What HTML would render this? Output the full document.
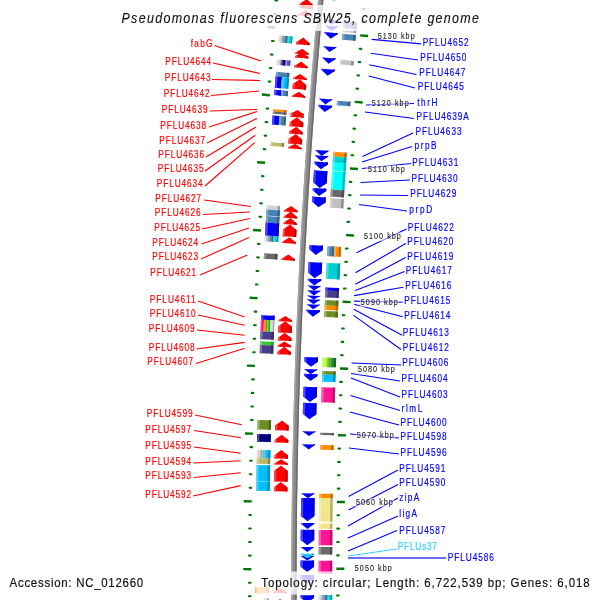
<!DOCTYPE html>
<html><head><meta charset="utf-8"><title>Pseudomonas fluorescens SBW25</title>
<style>html,body{margin:0;padding:0;background:#fff;width:600px;height:600px;overflow:hidden;font-family:"Liberation Sans",sans-serif}svg{display:block}</style>
</head><body>
<svg width="600" height="600" viewBox="0 0 600 600" font-family="'Liberation Sans', sans-serif"><rect width="600" height="600" fill="#fff"/><path d="M321.26,-4.98 L320.32,5.22 L319.40,15.42 L318.50,25.62 L317.61,35.82 L316.73,46.02 L315.88,56.22 L315.04,66.42 L314.21,76.62 L313.41,86.82 L312.61,97.02 L311.84,107.22 L311.08,117.42 L310.34,127.62 L309.62,137.82 L308.91,148.02 L308.22,158.22 L307.54,168.42 L306.88,178.62 L306.24,188.82 L305.62,199.02 L305.01,209.21 L304.41,219.41 L303.84,229.61 L303.28,239.81 L302.73,250.01 L302.21,260.21 L301.70,270.41 L301.20,280.61 L300.72,290.81 L300.26,301.01 L299.82,311.21 L299.39,321.41 L298.98,331.61 L298.58,341.81 L298.20,352.01 L297.84,362.21 L297.49,372.41 L297.16,382.61 L296.85,392.81 L296.55,403.01 L296.27,413.21 L296.01,423.41 L295.76,433.61 L295.53,443.81 L295.31,454.01 L295.11,464.20 L294.93,474.40 L294.76,484.60 L294.61,494.80 L294.48,505.00 L294.36,515.20 L294.26,525.40 L294.18,535.60 L294.11,545.80 L294.06,556.00 L294.02,566.20 L294.00,576.40 L294.00,586.60 L294.01,596.80 L294.04,607.00" fill="none" stroke="#8a8a8a" stroke-width="5.4"/>
<path d="M319.22,-5.17 L318.28,5.04 L317.36,15.24 L316.45,25.44 L315.56,35.65 L314.69,45.85 L313.83,56.05 L312.99,66.25 L312.17,76.46 L311.36,86.66 L310.57,96.86 L309.80,107.07 L309.04,117.27 L308.30,127.47 L307.57,137.67 L306.86,147.88 L306.17,158.08 L305.50,168.28 L304.84,178.49 L304.20,188.69 L303.57,198.89 L302.96,209.09 L302.37,219.30 L301.79,229.50 L301.23,239.70 L300.69,249.91 L300.16,260.11 L299.65,270.31 L299.15,280.51 L298.68,290.72 L298.21,300.92 L297.77,311.12 L297.34,321.33 L296.93,331.53 L296.53,341.73 L296.15,351.93 L295.79,362.14 L295.44,372.34 L295.11,382.54 L294.80,392.75 L294.50,402.95 L294.22,413.15 L293.96,423.35 L293.71,433.56 L293.48,443.76 L293.26,453.96 L293.06,464.17 L292.88,474.37 L292.71,484.57 L292.56,494.77 L292.43,504.98 L292.31,515.18 L292.21,525.38 L292.13,535.59 L292.06,545.79 L292.01,555.99 L291.97,566.20 L291.95,576.40 L291.95,586.60 L291.96,596.80 L291.99,607.01" fill="none" stroke="#a8a8a8" stroke-width="1.3"/>
<path d="M323.11,-4.81 L322.17,5.39 L321.24,15.59 L320.34,25.78 L319.45,35.98 L318.58,46.18 L317.72,56.37 L316.88,66.57 L316.06,76.77 L315.25,86.96 L314.46,97.16 L313.69,107.36 L312.93,117.55 L312.19,127.75 L311.46,137.95 L310.75,148.14 L310.06,158.34 L309.39,168.54 L308.73,178.73 L308.09,188.93 L307.46,199.13 L306.85,209.32 L306.26,219.52 L305.68,229.72 L305.12,239.91 L304.58,250.11 L304.05,260.31 L303.54,270.50 L303.05,280.70 L302.57,290.90 L302.11,301.09 L301.67,311.29 L301.24,321.49 L300.83,331.68 L300.43,341.88 L300.05,352.08 L299.69,362.27 L299.34,372.47 L299.01,382.67 L298.70,392.86 L298.40,403.06 L298.12,413.26 L297.85,423.45 L297.61,433.65 L297.37,443.85 L297.16,454.04 L296.96,464.24 L296.78,474.44 L296.61,484.63 L296.46,494.83 L296.33,505.03 L296.21,515.22 L296.11,525.42 L296.03,535.62 L295.96,545.81 L295.91,556.01 L295.87,566.21 L295.85,576.40 L295.85,586.60 L295.86,596.80 L295.89,606.99" fill="none" stroke="#6a6a6a" stroke-width="1.4"/>
<line x1="275.53" y1="0.41" x2="277.12" y2="0.55" stroke="#007700" stroke-width="2.1" stroke-linecap="round"/>
<line x1="274.31" y1="13.91" x2="275.90" y2="14.05" stroke="#007700" stroke-width="2.1" stroke-linecap="round"/>
<line x1="267.44" y1="26.93" x2="275.41" y2="27.62" stroke="#007700" stroke-width="2.4"/>
<line x1="271.95" y1="40.93" x2="273.55" y2="41.07" stroke="#007700" stroke-width="2.1" stroke-linecap="round"/>
<line x1="270.82" y1="54.45" x2="272.41" y2="54.58" stroke="#007700" stroke-width="2.1" stroke-linecap="round"/>
<line x1="269.71" y1="67.96" x2="271.31" y2="68.09" stroke="#007700" stroke-width="2.1" stroke-linecap="round"/>
<line x1="268.64" y1="81.48" x2="270.23" y2="81.61" stroke="#007700" stroke-width="2.1" stroke-linecap="round"/>
<line x1="261.90" y1="94.57" x2="269.88" y2="95.18" stroke="#007700" stroke-width="2.4"/>
<line x1="266.57" y1="108.53" x2="268.16" y2="108.64" stroke="#007700" stroke-width="2.1" stroke-linecap="round"/>
<line x1="265.58" y1="122.05" x2="267.17" y2="122.17" stroke="#007700" stroke-width="2.1" stroke-linecap="round"/>
<line x1="264.61" y1="135.58" x2="266.21" y2="135.69" stroke="#007700" stroke-width="2.1" stroke-linecap="round"/>
<line x1="263.68" y1="149.11" x2="265.28" y2="149.22" stroke="#007700" stroke-width="2.1" stroke-linecap="round"/>
<line x1="257.09" y1="162.26" x2="265.07" y2="162.79" stroke="#007700" stroke-width="2.4"/>
<line x1="261.90" y1="176.17" x2="263.49" y2="176.27" stroke="#007700" stroke-width="2.1" stroke-linecap="round"/>
<line x1="261.05" y1="189.71" x2="262.65" y2="189.80" stroke="#007700" stroke-width="2.1" stroke-linecap="round"/>
<line x1="260.23" y1="203.24" x2="261.83" y2="203.34" stroke="#007700" stroke-width="2.1" stroke-linecap="round"/>
<line x1="259.44" y1="216.78" x2="261.04" y2="216.87" stroke="#007700" stroke-width="2.1" stroke-linecap="round"/>
<line x1="252.99" y1="230.01" x2="260.98" y2="230.45" stroke="#007700" stroke-width="2.4"/>
<line x1="257.95" y1="243.86" x2="259.54" y2="243.95" stroke="#007700" stroke-width="2.1" stroke-linecap="round"/>
<line x1="257.24" y1="257.41" x2="258.84" y2="257.49" stroke="#007700" stroke-width="2.1" stroke-linecap="round"/>
<line x1="256.57" y1="270.95" x2="258.16" y2="271.03" stroke="#007700" stroke-width="2.1" stroke-linecap="round"/>
<line x1="255.92" y1="284.50" x2="257.52" y2="284.57" stroke="#007700" stroke-width="2.1" stroke-linecap="round"/>
<line x1="249.61" y1="297.79" x2="257.60" y2="298.15" stroke="#007700" stroke-width="2.4"/>
<line x1="254.71" y1="311.59" x2="256.31" y2="311.66" stroke="#007700" stroke-width="2.1" stroke-linecap="round"/>
<line x1="254.15" y1="325.14" x2="255.75" y2="325.21" stroke="#007700" stroke-width="2.1" stroke-linecap="round"/>
<line x1="253.62" y1="338.69" x2="255.22" y2="338.75" stroke="#007700" stroke-width="2.1" stroke-linecap="round"/>
<line x1="253.11" y1="352.25" x2="254.71" y2="352.30" stroke="#007700" stroke-width="2.1" stroke-linecap="round"/>
<line x1="246.94" y1="365.61" x2="254.94" y2="365.88" stroke="#007700" stroke-width="2.4"/>
<line x1="252.19" y1="379.35" x2="253.79" y2="379.40" stroke="#007700" stroke-width="2.1" stroke-linecap="round"/>
<line x1="251.78" y1="392.91" x2="253.37" y2="392.96" stroke="#007700" stroke-width="2.1" stroke-linecap="round"/>
<line x1="251.39" y1="406.46" x2="252.99" y2="406.51" stroke="#007700" stroke-width="2.1" stroke-linecap="round"/>
<line x1="251.03" y1="420.02" x2="252.63" y2="420.06" stroke="#007700" stroke-width="2.1" stroke-linecap="round"/>
<line x1="245.00" y1="433.44" x2="252.99" y2="433.63" stroke="#007700" stroke-width="2.4"/>
<line x1="250.39" y1="447.14" x2="251.99" y2="447.17" stroke="#007700" stroke-width="2.1" stroke-linecap="round"/>
<line x1="250.12" y1="460.69" x2="251.72" y2="460.73" stroke="#007700" stroke-width="2.1" stroke-linecap="round"/>
<line x1="249.87" y1="474.25" x2="251.47" y2="474.28" stroke="#007700" stroke-width="2.1" stroke-linecap="round"/>
<line x1="249.66" y1="487.81" x2="251.26" y2="487.84" stroke="#007700" stroke-width="2.1" stroke-linecap="round"/>
<line x1="243.77" y1="501.30" x2="251.77" y2="501.40" stroke="#007700" stroke-width="2.4"/>
<line x1="249.31" y1="514.93" x2="250.91" y2="514.95" stroke="#007700" stroke-width="2.1" stroke-linecap="round"/>
<line x1="249.18" y1="528.50" x2="250.78" y2="528.51" stroke="#007700" stroke-width="2.1" stroke-linecap="round"/>
<line x1="249.08" y1="542.06" x2="250.68" y2="542.07" stroke="#007700" stroke-width="2.1" stroke-linecap="round"/>
<line x1="249.01" y1="555.62" x2="250.61" y2="555.62" stroke="#007700" stroke-width="2.1" stroke-linecap="round"/>
<line x1="243.26" y1="569.17" x2="251.26" y2="569.18" stroke="#007700" stroke-width="2.4"/>
<line x1="248.95" y1="582.74" x2="250.55" y2="582.74" stroke="#007700" stroke-width="2.1" stroke-linecap="round"/>
<line x1="248.96" y1="596.30" x2="250.56" y2="596.30" stroke="#007700" stroke-width="2.1" stroke-linecap="round"/>
<line x1="363.22" y1="8.84" x2="364.82" y2="8.98" stroke="#007700" stroke-width="2.1" stroke-linecap="round"/>
<line x1="362.02" y1="22.13" x2="363.62" y2="22.28" stroke="#007700" stroke-width="2.1" stroke-linecap="round"/>
<line x1="360.15" y1="35.37" x2="368.12" y2="36.06" stroke="#007700" stroke-width="2.4"/>
<line x1="359.71" y1="48.73" x2="361.30" y2="48.87" stroke="#007700" stroke-width="2.1" stroke-linecap="round"/>
<line x1="358.59" y1="62.03" x2="360.19" y2="62.16" stroke="#007700" stroke-width="2.1" stroke-linecap="round"/>
<line x1="357.50" y1="75.34" x2="359.10" y2="75.47" stroke="#007700" stroke-width="2.1" stroke-linecap="round"/>
<line x1="356.44" y1="88.64" x2="358.04" y2="88.77" stroke="#007700" stroke-width="2.1" stroke-linecap="round"/>
<line x1="354.71" y1="101.90" x2="362.69" y2="102.51" stroke="#007700" stroke-width="2.4"/>
<line x1="354.41" y1="115.26" x2="356.01" y2="115.38" stroke="#007700" stroke-width="2.1" stroke-linecap="round"/>
<line x1="353.43" y1="128.58" x2="355.03" y2="128.69" stroke="#007700" stroke-width="2.1" stroke-linecap="round"/>
<line x1="352.49" y1="141.89" x2="354.08" y2="142.00" stroke="#007700" stroke-width="2.1" stroke-linecap="round"/>
<line x1="351.57" y1="155.21" x2="353.16" y2="155.32" stroke="#007700" stroke-width="2.1" stroke-linecap="round"/>
<line x1="349.98" y1="168.48" x2="357.96" y2="169.01" stroke="#007700" stroke-width="2.4"/>
<line x1="349.82" y1="181.85" x2="351.41" y2="181.95" stroke="#007700" stroke-width="2.1" stroke-linecap="round"/>
<line x1="348.98" y1="195.17" x2="350.58" y2="195.27" stroke="#007700" stroke-width="2.1" stroke-linecap="round"/>
<line x1="348.17" y1="208.50" x2="349.77" y2="208.59" stroke="#007700" stroke-width="2.1" stroke-linecap="round"/>
<line x1="347.40" y1="221.82" x2="348.99" y2="221.92" stroke="#007700" stroke-width="2.1" stroke-linecap="round"/>
<line x1="345.95" y1="235.11" x2="353.94" y2="235.55" stroke="#007700" stroke-width="2.4"/>
<line x1="345.92" y1="248.48" x2="347.52" y2="248.57" stroke="#007700" stroke-width="2.1" stroke-linecap="round"/>
<line x1="345.23" y1="261.81" x2="346.83" y2="261.89" stroke="#007700" stroke-width="2.1" stroke-linecap="round"/>
<line x1="344.57" y1="275.14" x2="346.16" y2="275.22" stroke="#007700" stroke-width="2.1" stroke-linecap="round"/>
<line x1="343.93" y1="288.48" x2="345.53" y2="288.55" stroke="#007700" stroke-width="2.1" stroke-linecap="round"/>
<line x1="342.62" y1="301.78" x2="350.61" y2="302.14" stroke="#007700" stroke-width="2.4"/>
<line x1="342.74" y1="315.15" x2="344.34" y2="315.22" stroke="#007700" stroke-width="2.1" stroke-linecap="round"/>
<line x1="342.19" y1="328.49" x2="343.79" y2="328.55" stroke="#007700" stroke-width="2.1" stroke-linecap="round"/>
<line x1="341.66" y1="341.83" x2="343.26" y2="341.89" stroke="#007700" stroke-width="2.1" stroke-linecap="round"/>
<line x1="341.17" y1="355.16" x2="342.76" y2="355.22" stroke="#007700" stroke-width="2.1" stroke-linecap="round"/>
<line x1="340.00" y1="368.48" x2="347.99" y2="368.75" stroke="#007700" stroke-width="2.4"/>
<line x1="340.26" y1="381.85" x2="341.86" y2="381.90" stroke="#007700" stroke-width="2.1" stroke-linecap="round"/>
<line x1="339.85" y1="395.19" x2="341.45" y2="395.24" stroke="#007700" stroke-width="2.1" stroke-linecap="round"/>
<line x1="339.46" y1="408.53" x2="341.06" y2="408.58" stroke="#007700" stroke-width="2.1" stroke-linecap="round"/>
<line x1="339.11" y1="421.88" x2="340.71" y2="421.92" stroke="#007700" stroke-width="2.1" stroke-linecap="round"/>
<line x1="338.08" y1="435.21" x2="346.08" y2="435.39" stroke="#007700" stroke-width="2.4"/>
<line x1="338.48" y1="448.57" x2="340.08" y2="448.60" stroke="#007700" stroke-width="2.1" stroke-linecap="round"/>
<line x1="338.21" y1="461.91" x2="339.81" y2="461.94" stroke="#007700" stroke-width="2.1" stroke-linecap="round"/>
<line x1="337.97" y1="475.26" x2="339.57" y2="475.29" stroke="#007700" stroke-width="2.1" stroke-linecap="round"/>
<line x1="337.76" y1="488.61" x2="339.36" y2="488.63" stroke="#007700" stroke-width="2.1" stroke-linecap="round"/>
<line x1="336.87" y1="501.95" x2="344.87" y2="502.05" stroke="#007700" stroke-width="2.4"/>
<line x1="337.41" y1="515.30" x2="339.01" y2="515.32" stroke="#007700" stroke-width="2.1" stroke-linecap="round"/>
<line x1="337.28" y1="528.65" x2="338.88" y2="528.67" stroke="#007700" stroke-width="2.1" stroke-linecap="round"/>
<line x1="337.18" y1="542.00" x2="338.78" y2="542.01" stroke="#007700" stroke-width="2.1" stroke-linecap="round"/>
<line x1="337.11" y1="555.35" x2="338.71" y2="555.36" stroke="#007700" stroke-width="2.1" stroke-linecap="round"/>
<line x1="336.36" y1="568.70" x2="344.36" y2="568.71" stroke="#007700" stroke-width="2.4"/>
<line x1="337.05" y1="582.05" x2="338.65" y2="582.05" stroke="#007700" stroke-width="2.1" stroke-linecap="round"/>
<line x1="337.06" y1="595.40" x2="338.66" y2="595.39" stroke="#007700" stroke-width="2.1" stroke-linecap="round"/>
<polygon points="279.05,35.42 283.49,35.81 282.90,42.70 278.46,42.33" fill="#d3d3d3"/>
<polygon points="279.05,35.42 280.38,35.54 279.79,42.44 278.46,42.33" fill="#e0e0e0"/>
<polygon points="282.15,35.69 283.49,35.81 282.90,42.70 281.57,42.59" fill="#9e9e9e"/>
<polygon points="283.49,35.81 287.92,36.19 287.34,43.08 282.90,42.70" fill="#4682b4"/>
<polygon points="283.49,35.81 284.82,35.92 284.23,42.82 282.90,42.70" fill="#7ea8ca"/>
<polygon points="286.59,36.07 287.92,36.19 287.34,43.08 286.00,42.97" fill="#346287"/>
<polygon points="287.92,36.19 292.50,36.58 291.91,43.47 287.34,43.08" fill="#00ced1"/>
<polygon points="287.92,36.19 289.30,36.31 288.71,43.20 287.34,43.08" fill="#4cdddf"/>
<polygon points="291.13,36.46 292.50,36.58 291.91,43.47 290.54,43.35" fill="#009a9d"/>
<polygon points="277.03,59.43 281.87,59.83 281.44,65.16 276.59,64.77" fill="#d3d3d3"/>
<polygon points="277.03,59.43 278.48,59.55 278.05,64.89 276.59,64.77" fill="#e0e0e0"/>
<polygon points="280.42,59.71 281.87,59.83 281.44,65.16 279.98,65.04" fill="#9e9e9e"/>
<polygon points="281.87,59.83 285.64,60.14 285.20,65.47 281.44,65.16" fill="#000080"/>
<polygon points="281.87,59.83 283.00,59.92 282.57,65.25 281.44,65.16" fill="#4c4ca6"/>
<polygon points="284.51,60.05 285.64,60.14 285.20,65.47 284.07,65.38" fill="#000060"/>
<polygon points="285.64,60.14 290.48,60.54 290.05,65.86 285.20,65.47" fill="#6a5acd"/>
<polygon points="285.64,60.14 287.09,60.26 286.66,65.59 285.20,65.47" fill="#978cdc"/>
<polygon points="289.03,60.42 290.48,60.54 290.05,65.86 288.60,65.74" fill="#50449a"/>
<polygon points="276.02,71.84 289.48,72.92 289.11,77.53 275.65,76.47" fill="#4682b4"/>
<polygon points="276.02,71.84 278.18,72.01 277.81,76.64 275.65,76.47" fill="#7ea8ca"/>
<polygon points="287.06,72.72 289.48,72.92 289.11,77.53 286.69,77.34" fill="#346287"/>
<polygon points="275.65,76.47 281.98,76.97 281.09,88.30 274.76,87.81" fill="#0000ff"/>
<polygon points="275.65,76.47 277.55,76.62 276.66,87.95 274.76,87.81" fill="#4c4cff"/>
<polygon points="280.08,76.82 281.98,76.97 281.09,88.30 279.19,88.15" fill="#0000bf"/>
<polygon points="281.98,76.97 289.11,77.53 288.22,88.85 281.09,88.30" fill="#00bfff"/>
<polygon points="281.98,76.97 284.12,77.14 283.23,88.46 281.09,88.30" fill="#4cd2ff"/>
<polygon points="286.97,77.36 289.11,77.53 288.22,88.85 286.08,88.69" fill="#008fbf"/>
<polygon points="274.60,89.84 281.33,90.36 280.93,95.64 274.20,95.12" fill="#0000ff"/>
<polygon points="274.60,89.84 276.62,90.00 276.22,95.28 274.20,95.12" fill="#4c4cff"/>
<polygon points="279.31,90.21 281.33,90.36 280.93,95.64 278.91,95.48" fill="#0000bf"/>
<polygon points="281.33,90.36 288.06,90.88 287.66,96.15 280.93,95.64" fill="#4682b4"/>
<polygon points="281.33,90.36 283.35,90.52 282.95,95.79 280.93,95.64" fill="#7ea8ca"/>
<polygon points="286.04,90.73 288.06,90.88 287.66,96.15 285.64,96.00" fill="#346287"/>
<polygon points="273.14,109.15 286.60,110.15 286.43,112.50 272.96,111.50" fill="#ff8c00"/>
<polygon points="273.14,109.15 275.29,109.31 275.12,111.66 272.96,111.50" fill="#ffae4c"/>
<polygon points="284.18,109.97 286.60,110.15 286.43,112.50 284.00,112.32" fill="#bf6900"/>
<polygon points="272.96,111.50 286.43,112.50 286.25,114.85 272.79,113.86" fill="#696969"/>
<polygon points="272.96,111.50 275.12,111.66 274.95,114.02 272.79,113.86" fill="#969696"/>
<polygon points="284.00,112.32 286.43,112.50 286.25,114.85 283.83,114.67" fill="#4f4f4f"/>
<polygon points="272.67,115.55 279.40,116.04 278.75,124.96 272.02,124.47" fill="#0000ff"/>
<polygon points="272.67,115.55 274.69,115.70 274.04,124.62 272.02,124.47" fill="#4c4cff"/>
<polygon points="277.38,115.89 279.40,116.04 278.75,124.96 276.73,124.81" fill="#0000bf"/>
<polygon points="279.40,116.04 286.13,116.54 285.48,125.44 278.75,124.96" fill="#4682b4"/>
<polygon points="279.40,116.04 281.42,116.19 280.77,125.10 278.75,124.96" fill="#7ea8ca"/>
<polygon points="284.11,116.39 286.13,116.54 285.48,125.44 283.46,125.30" fill="#346287"/>
<polygon points="270.76,142.26 284.23,143.19 283.98,146.84 270.51,145.91" fill="#bdb76b"/>
<polygon points="270.76,142.26 272.92,142.41 272.67,146.06 270.51,145.91" fill="#d1cd97"/>
<polygon points="281.81,143.02 284.23,143.19 283.98,146.84 281.56,146.67" fill="#8e8950"/>
<polygon points="266.73,205.18 280.20,205.98 279.94,210.39 266.47,209.61" fill="#d3d3d3"/>
<polygon points="266.73,205.18 268.88,205.31 268.62,209.73 266.47,209.61" fill="#e0e0e0"/>
<polygon points="277.78,205.83 280.20,205.98 279.94,210.39 277.52,210.25" fill="#9e9e9e"/>
<polygon points="266.47,209.61 279.94,210.39 279.60,216.39 266.12,215.61" fill="#4682b4"/>
<polygon points="266.47,209.61 268.62,209.73 268.28,215.74 266.12,215.61" fill="#7ea8ca"/>
<polygon points="277.52,210.25 279.94,210.39 279.60,216.39 277.17,216.25" fill="#346287"/>
<polygon points="266.09,216.11 279.57,216.89 279.20,223.38 265.72,222.62" fill="#4682b4"/>
<polygon points="266.09,216.11 268.25,216.24 267.88,222.74 265.72,222.62" fill="#7ea8ca"/>
<polygon points="277.14,216.75 279.57,216.89 279.20,223.38 276.77,223.24" fill="#346287"/>
<polygon points="265.72,222.62 279.20,223.38 278.48,236.37 265.00,235.63" fill="#0000ff"/>
<polygon points="265.72,222.62 267.88,222.74 267.15,235.75 265.00,235.63" fill="#4c4cff"/>
<polygon points="276.77,223.24 279.20,223.38 278.48,236.37 276.05,236.23" fill="#0000bf"/>
<polygon points="265.00,235.63 269.04,235.85 268.73,241.60 264.69,241.38" fill="#d3d3d3"/>
<polygon points="265.00,235.63 266.21,235.70 265.90,241.45 264.69,241.38" fill="#e0e0e0"/>
<polygon points="267.83,235.79 269.04,235.85 268.73,241.60 267.52,241.54" fill="#9e9e9e"/>
<polygon points="269.04,235.85 273.76,236.11 273.45,241.85 268.73,241.60" fill="#4682b4"/>
<polygon points="269.04,235.85 270.46,235.93 270.15,241.68 268.73,241.60" fill="#7ea8ca"/>
<polygon points="272.34,236.03 273.76,236.11 273.45,241.85 272.03,241.78" fill="#346287"/>
<polygon points="273.76,236.11 278.48,236.37 278.17,242.11 273.45,241.85" fill="#00ced1"/>
<polygon points="273.76,236.11 275.18,236.19 274.87,241.93 273.45,241.85" fill="#4cdddf"/>
<polygon points="277.06,236.29 278.48,236.37 278.17,242.11 276.75,242.03" fill="#009a9d"/>
<polygon points="264.07,253.19 277.55,253.89 277.27,259.40 263.78,258.72" fill="#696969"/>
<polygon points="264.07,253.19 266.22,253.30 265.94,258.83 263.78,258.72" fill="#969696"/>
<polygon points="275.12,253.76 277.55,253.89 277.27,259.40 274.84,259.28" fill="#4f4f4f"/>
<polygon points="261.16,315.21 274.65,315.78 274.46,320.28 260.98,319.72" fill="#0000ff"/>
<polygon points="261.16,315.21 263.32,315.30 263.13,319.81 260.98,319.72" fill="#4c4cff"/>
<polygon points="272.22,315.68 274.65,315.78 274.46,320.28 272.04,320.18" fill="#0000bf"/>
<polygon points="260.98,319.72 263.94,319.84 263.47,331.55 260.50,331.43" fill="#ff1493"/>
<polygon points="260.98,319.72 261.87,319.76 261.39,331.47 260.50,331.43" fill="#ff5ab3"/>
<polygon points="263.05,319.81 263.94,319.84 263.47,331.55 262.58,331.52" fill="#bf0f6e"/>
<polygon points="263.94,319.84 267.18,319.98 266.71,331.68 263.47,331.55" fill="#ff8c00"/>
<polygon points="263.94,319.84 264.91,319.88 264.44,331.59 263.47,331.55" fill="#ffae4c"/>
<polygon points="266.21,319.94 267.18,319.98 266.71,331.68 265.74,331.64" fill="#bf6900"/>
<polygon points="267.18,319.98 270.69,320.12 270.22,331.82 266.71,331.68" fill="#32cd32"/>
<polygon points="267.18,319.98 268.23,320.02 267.76,331.72 266.71,331.68" fill="#70dc70"/>
<polygon points="269.64,320.08 270.69,320.12 270.22,331.82 269.16,331.78" fill="#269a26"/>
<polygon points="270.69,320.12 274.46,320.28 273.99,331.97 270.22,331.82" fill="#d3d3d3"/>
<polygon points="270.69,320.12 271.82,320.17 271.35,331.86 270.22,331.82" fill="#e0e0e0"/>
<polygon points="273.33,320.23 274.46,320.28 273.99,331.97 272.86,331.92" fill="#9e9e9e"/>
<polygon points="260.50,331.43 273.99,331.97 273.69,339.77 260.20,339.26" fill="#483d8b"/>
<polygon points="260.50,331.43 262.66,331.52 262.36,339.34 260.20,339.26" fill="#7f77ae"/>
<polygon points="271.57,331.87 273.99,331.97 273.69,339.77 271.26,339.68" fill="#362e68"/>
<polygon points="260.13,341.22 273.62,341.73 273.47,345.55 259.98,345.05" fill="#32cd32"/>
<polygon points="260.13,341.22 262.28,341.30 262.14,345.13 259.98,345.05" fill="#70dc70"/>
<polygon points="271.19,341.64 273.62,341.73 273.47,345.55 271.04,345.46" fill="#269a26"/>
<polygon points="259.98,345.05 273.47,345.55 273.18,353.67 259.68,353.18" fill="#483d8b"/>
<polygon points="259.98,345.05 262.14,345.13 261.84,353.26 259.68,353.18" fill="#7f77ae"/>
<polygon points="271.04,345.46 273.47,345.55 273.18,353.67 270.75,353.58" fill="#362e68"/>
<polygon points="257.63,419.94 271.13,420.29 270.89,429.75 257.40,429.42" fill="#6b8e23"/>
<polygon points="257.63,419.94 259.79,420.00 259.56,429.47 257.40,429.42" fill="#97b065"/>
<polygon points="268.70,420.23 271.13,420.29 270.89,429.75 268.46,429.69" fill="#506a1a"/>
<polygon points="257.29,433.95 270.78,434.26 270.61,442.04 257.11,441.74" fill="#000080"/>
<polygon points="257.29,433.95 259.45,434.00 259.27,441.79 257.11,441.74" fill="#4c4ca6"/>
<polygon points="268.36,434.21 270.78,434.26 270.61,442.04 268.18,441.99" fill="#000060"/>
<polygon points="256.94,449.95 262.33,450.07 262.17,458.37 256.77,458.27" fill="#d3d3d3"/>
<polygon points="256.94,449.95 258.55,449.99 258.39,458.30 256.77,458.27" fill="#e0e0e0"/>
<polygon points="260.71,450.03 262.33,450.07 262.17,458.37 260.55,458.34" fill="#9e9e9e"/>
<polygon points="262.33,450.07 263.68,450.10 263.52,458.40 262.17,458.37" fill="#a9a9a9"/>
<polygon points="262.33,450.07 262.74,450.08 262.57,458.38 262.17,458.37" fill="#c3c3c3"/>
<polygon points="263.28,450.09 263.68,450.10 263.52,458.40 263.11,458.39" fill="#7f7f7f"/>
<polygon points="263.68,450.10 270.43,450.24 270.26,458.53 263.52,458.40" fill="#00bfff"/>
<polygon points="263.68,450.10 265.71,450.14 265.54,458.44 263.52,458.40" fill="#4cd2ff"/>
<polygon points="268.41,450.19 270.43,450.24 270.26,458.53 268.24,458.49" fill="#008fbf"/>
<polygon points="256.77,458.27 270.26,458.53 270.16,464.04 256.66,463.78" fill="#bdb76b"/>
<polygon points="256.77,458.27 258.93,458.31 258.82,463.82 256.66,463.78" fill="#d1cd97"/>
<polygon points="267.84,458.48 270.26,458.53 270.16,464.04 267.73,463.99" fill="#8e8950"/>
<polygon points="256.64,464.96 270.14,465.21 269.86,481.41 256.36,481.19" fill="#00bfff"/>
<polygon points="256.64,464.96 258.80,465.00 258.52,481.23 256.36,481.19" fill="#4cd2ff"/>
<polygon points="267.71,465.16 270.14,465.21 269.86,481.41 267.43,481.37" fill="#008fbf"/>
<polygon points="256.35,481.59 269.85,481.81 269.71,491.03 256.21,490.83" fill="#00bfff"/>
<polygon points="256.35,481.59 258.51,481.63 258.37,490.86 256.21,490.83" fill="#4cd2ff"/>
<polygon points="267.42,481.77 269.85,481.81 269.71,491.03 267.28,490.99" fill="#008fbf"/>
<polygon points="255.55,587.30 269.05,587.29 269.05,593.29 255.56,593.32" fill="#ff8c00"/>
<polygon points="255.55,587.30 257.71,587.30 257.72,593.31 255.56,593.32" fill="#ffae4c"/>
<polygon points="266.62,587.29 269.05,587.29 269.05,593.29 266.62,593.30" fill="#bf6900"/>
<polygon points="263.93,598.28 269.06,598.27 269.09,605.99 263.96,606.01" fill="#c8dcea"/>
<polygon points="263.93,598.28 265.47,598.28 265.50,606.00 263.96,606.01" fill="#d8e6f0"/>
<polygon points="267.53,598.27 269.06,598.27 269.09,605.99 267.55,606.00" fill="#96a5b0"/>
<g opacity="0.00"><polygon points="283.13,-10.19 287.57,-9.78 286.36,3.36 281.92,2.95" fill="#d3d3d3"/><polygon points="283.13,-10.19 284.46,-10.07 283.25,3.08 281.92,2.95" fill="#e0e0e0"/><polygon points="286.24,-9.90 287.57,-9.78 286.36,3.36 285.03,3.24" fill="#9e9e9e"/><polygon points="287.57,-9.78 292.00,-9.37 290.80,3.76 286.36,3.36" fill="#4682b4"/><polygon points="287.57,-9.78 288.90,-9.66 287.69,3.48 286.36,3.36" fill="#7ea8ca"/><polygon points="290.67,-9.49 292.00,-9.37 290.80,3.76 289.46,3.64" fill="#346287"/><polygon points="292.00,-9.37 296.58,-8.94 295.37,4.18 290.80,3.76" fill="#00ced1"/><polygon points="292.00,-9.37 293.38,-9.24 292.17,3.89 290.80,3.76" fill="#4cdddf"/><polygon points="295.20,-9.07 296.58,-8.94 295.37,4.18 293.99,4.05" fill="#009a9d"/></g>
<polygon points="306.84,-1.00 313.07,4.91 312.67,9.31 299.23,8.09 299.63,3.69" fill="#ff0000"/>
<polygon points="299.23,8.09 299.63,3.69 301.93,2.19 301.38,8.29" fill="#ff4747"/>
<polygon points="312.67,9.31 313.07,4.91 310.95,2.90 310.39,9.10" fill="#bf0000"/>
<polygon points="305.83,10.00 312.14,15.24 312.04,16.40 298.59,15.20 298.69,14.04" fill="#ff0000"/>
<polygon points="298.59,15.20 298.69,14.04 300.98,12.74 300.74,15.39" fill="#ff4747"/>
<polygon points="312.04,16.40 312.14,15.24 309.99,13.46 309.75,16.20" fill="#bf0000"/>
<polygon points="303.40,37.60 309.67,43.47 309.52,45.27 296.07,44.13 296.22,42.33" fill="#ff0000"/>
<polygon points="296.07,44.13 296.22,42.33 298.52,40.81 298.22,44.31" fill="#ff4747"/>
<polygon points="309.52,45.27 309.67,43.47 307.54,41.48 307.23,45.08" fill="#bf0000"/>
<polygon points="302.46,48.70 308.81,53.66 308.72,54.76 295.27,53.64 295.36,52.54" fill="#ff0000"/>
<polygon points="295.27,53.64 295.36,52.54 297.63,51.31 297.42,53.82" fill="#ff4747"/>
<polygon points="308.72,54.76 308.81,53.66 306.65,51.98 306.44,54.57" fill="#bf0000"/>
<polygon points="302.18,52.00 308.51,57.36 308.41,58.56 294.95,57.44 295.05,56.24" fill="#ff0000"/>
<polygon points="294.95,57.44 295.05,56.24 297.33,54.88 297.11,57.62" fill="#ff4747"/>
<polygon points="308.41,58.56 308.51,57.36 306.35,55.54 306.12,58.37" fill="#bf0000"/>
<polygon points="301.38,61.60 307.71,67.05 307.61,68.25 294.16,67.15 294.26,65.95" fill="#ff0000"/>
<polygon points="294.16,67.15 294.26,65.95 296.54,64.56 296.31,67.33" fill="#ff4747"/>
<polygon points="307.61,68.25 307.71,67.05 305.56,65.20 305.33,68.06" fill="#bf0000"/>
<polygon points="300.38,74.00 306.75,78.93 306.67,80.03 293.21,78.97 293.30,77.87" fill="#ff0000"/>
<polygon points="293.21,78.97 293.30,77.87 295.56,76.63 295.36,79.14" fill="#ff4747"/>
<polygon points="306.67,80.03 306.75,78.93 304.59,77.26 304.38,79.85" fill="#bf0000"/>
<polygon points="299.95,79.30 306.27,85.13 305.90,89.82 292.44,88.78 292.81,84.07" fill="#ff0000"/>
<polygon points="292.44,88.78 292.81,84.07 295.09,82.54 294.59,88.94" fill="#ff4747"/>
<polygon points="305.90,89.82 306.27,85.13 304.12,83.15 303.61,89.65" fill="#bf0000"/>
<polygon points="298.98,91.70 305.37,96.70 305.28,97.81 291.82,96.79 291.91,95.66" fill="#ff0000"/>
<polygon points="291.82,96.79 291.91,95.66 294.17,94.39 293.98,96.95" fill="#ff4747"/>
<polygon points="305.28,97.81 305.37,96.70 303.20,95.00 302.99,97.64" fill="#bf0000"/>
<polygon points="297.59,110.00 304.03,114.50 303.95,115.50 290.49,114.50 290.57,113.50" fill="#ff0000"/>
<polygon points="290.49,114.50 290.57,113.50 292.81,112.38 292.65,114.66" fill="#ff4747"/>
<polygon points="303.95,115.50 304.03,114.50 301.84,112.97 301.67,115.33" fill="#bf0000"/>
<polygon points="297.44,112.00 303.86,116.73 303.79,117.79 290.32,116.81 290.40,115.75" fill="#ff0000"/>
<polygon points="290.32,116.81 290.40,115.75 292.65,114.55 292.48,116.96" fill="#ff4747"/>
<polygon points="303.79,117.79 303.86,116.73 301.68,115.13 301.50,117.63" fill="#bf0000"/>
<polygon points="297.05,117.30 303.40,123.09 303.10,127.18 289.64,126.22 289.94,122.11" fill="#ff0000"/>
<polygon points="289.64,126.22 289.94,122.11 292.21,120.57 291.79,126.37" fill="#ff4747"/>
<polygon points="303.10,127.18 303.40,123.09 301.24,121.12 300.82,127.02" fill="#bf0000"/>
<polygon points="296.37,126.70 302.73,132.48 302.58,134.48 289.12,133.52 289.26,131.52" fill="#ff0000"/>
<polygon points="289.12,133.52 289.26,131.52 291.54,129.98 291.27,133.68" fill="#ff4747"/>
<polygon points="302.58,134.48 302.73,132.48 300.57,130.51 300.30,134.31" fill="#bf0000"/>
<polygon points="295.85,134.00 302.21,139.77 301.89,144.47 288.42,143.53 288.75,138.83" fill="#ff0000"/>
<polygon points="288.42,143.53 288.75,138.83 291.02,137.28 290.57,143.68" fill="#ff4747"/>
<polygon points="301.89,144.47 302.21,139.77 300.05,137.81 299.60,144.31" fill="#bf0000"/>
<polygon points="295.17,143.80 301.63,148.18 301.56,149.16 288.10,148.24 288.16,147.26" fill="#ff0000"/>
<polygon points="288.10,148.24 288.16,147.26 290.40,146.15 290.25,148.39" fill="#ff4747"/>
<polygon points="301.56,149.16 301.63,148.18 299.43,146.69 299.27,149.00" fill="#bf0000"/>
<polygon points="291.17,206.00 297.64,211.03 297.57,212.19 284.09,211.41 284.16,210.25" fill="#ff0000"/>
<polygon points="284.09,211.41 284.16,210.25 286.40,208.89 286.25,211.53" fill="#ff4747"/>
<polygon points="297.57,212.19 297.64,211.03 295.44,209.32 295.28,212.06" fill="#bf0000"/>
<polygon points="290.84,211.60 297.27,217.29 297.20,218.59 283.72,217.81 283.80,216.51" fill="#ff0000"/>
<polygon points="283.72,217.81 283.80,216.51 286.05,214.94 285.88,217.94" fill="#ff4747"/>
<polygon points="297.20,218.59 297.27,217.29 295.09,215.36 294.91,218.46" fill="#bf0000"/>
<polygon points="290.47,218.00 296.91,223.68 296.84,224.88 283.36,224.12 283.43,222.92" fill="#ff0000"/>
<polygon points="283.36,224.12 283.43,222.92 285.68,221.34 285.52,224.24" fill="#ff4747"/>
<polygon points="296.84,224.88 296.91,223.68 294.72,221.75 294.55,224.75" fill="#bf0000"/>
<polygon points="290.10,224.50 296.55,230.17 296.17,237.07 282.69,236.33 283.07,229.43" fill="#ff0000"/>
<polygon points="282.69,236.33 283.07,229.43 285.32,227.85 284.84,236.45" fill="#ff4747"/>
<polygon points="296.17,237.07 296.55,230.17 294.35,228.25 293.87,236.94" fill="#bf0000"/>
<polygon points="289.39,237.30 295.87,242.46 295.81,243.66 282.33,242.94 282.39,241.74" fill="#ff0000"/>
<polygon points="282.33,242.94 282.39,241.74 284.63,240.32 284.49,243.06" fill="#ff4747"/>
<polygon points="295.81,243.66 295.87,242.46 293.67,240.71 293.52,243.54" fill="#bf0000"/>
<polygon points="288.49,254.40 294.99,259.46 294.93,260.64 281.44,259.96 281.50,258.78" fill="#ff0000"/>
<polygon points="281.44,259.96 281.50,258.78 283.74,257.38 283.60,260.07" fill="#ff4747"/>
<polygon points="294.93,260.64 294.99,259.46 292.78,257.74 292.63,260.53" fill="#bf0000"/>
<polygon points="285.60,316.00 292.16,320.68 292.12,321.78 278.63,321.22 278.67,320.12" fill="#ff0000"/>
<polygon points="278.63,321.22 278.67,320.12 280.89,318.80 280.79,321.31" fill="#ff4747"/>
<polygon points="292.12,321.78 292.16,320.68 289.93,319.09 289.82,321.68" fill="#bf0000"/>
<polygon points="285.38,321.30 291.91,326.87 291.67,332.97 278.18,332.43 278.42,326.33" fill="#ff0000"/>
<polygon points="278.18,332.43 278.42,326.33 280.65,324.72 280.34,332.52" fill="#ff4747"/>
<polygon points="291.67,332.97 291.91,326.87 289.69,324.98 289.37,332.88" fill="#bf0000"/>
<polygon points="284.92,332.70 291.46,338.26 291.36,340.96 277.87,340.44 277.97,337.74" fill="#ff0000"/>
<polygon points="277.87,340.44 277.97,337.74 280.20,336.13 280.03,340.53" fill="#ff4747"/>
<polygon points="291.36,340.96 291.46,338.26 289.24,336.37 289.07,340.87" fill="#bf0000"/>
<polygon points="284.58,341.60 291.17,346.09 291.13,347.15 277.63,346.65 277.67,345.59" fill="#ff0000"/>
<polygon points="277.63,346.65 277.67,345.59 279.88,344.31 279.79,346.73" fill="#ff4747"/>
<polygon points="291.13,347.15 291.17,346.09 288.93,344.57 288.83,347.07" fill="#bf0000"/>
<polygon points="284.39,346.70 290.94,352.24 290.85,354.64 277.36,354.16 277.45,351.76" fill="#ff0000"/>
<polygon points="277.36,354.16 277.45,351.76 279.67,350.14 279.52,354.24" fill="#ff4747"/>
<polygon points="290.85,354.64 290.94,352.24 288.71,350.36 288.56,354.56" fill="#bf0000"/>
<polygon points="282.08,420.40 288.69,425.87 288.58,430.46 275.08,430.14 275.20,425.53" fill="#ff0000"/>
<polygon points="275.08,430.14 275.20,425.53 277.40,423.89 277.24,430.19" fill="#ff4747"/>
<polygon points="288.58,430.46 288.69,425.87 286.44,424.01 286.29,430.41" fill="#bf0000"/>
<polygon points="281.73,434.70 288.35,440.15 288.29,442.85 274.80,442.55 274.86,439.85" fill="#ff0000"/>
<polygon points="274.80,442.55 274.86,439.85 277.06,438.20 276.96,442.60" fill="#ff4747"/>
<polygon points="288.29,442.85 288.35,440.15 286.10,438.30 286.00,442.80" fill="#bf0000"/>
<polygon points="281.39,450.00 288.03,455.44 287.96,458.83 274.46,458.57 274.53,455.16" fill="#ff0000"/>
<polygon points="274.46,458.57 274.53,455.16 276.73,453.51 276.62,458.61" fill="#ff4747"/>
<polygon points="287.96,458.83 288.03,455.44 285.77,453.59 285.67,458.79" fill="#bf0000"/>
<polygon points="281.20,459.30 287.87,463.75 287.85,464.83 274.35,464.57 274.37,463.49" fill="#ff0000"/>
<polygon points="274.35,464.57 274.37,463.49 276.56,462.15 276.51,464.61" fill="#ff4747"/>
<polygon points="287.85,464.83 287.87,463.75 285.60,462.24 285.55,464.78" fill="#bf0000"/>
<polygon points="281.08,465.60 287.74,471.02 287.56,481.71 274.06,481.49 274.24,470.78" fill="#ff0000"/>
<polygon points="274.06,481.49 274.24,470.78 276.43,469.12 276.22,481.53" fill="#ff4747"/>
<polygon points="287.56,481.71 287.74,471.02 285.47,469.18 285.26,481.67" fill="#bf0000"/>
<polygon points="280.80,482.00 287.47,487.40 287.41,491.40 273.91,491.20 273.97,487.20" fill="#ff0000"/>
<polygon points="273.91,491.20 273.97,487.20 276.16,485.53 276.07,491.23" fill="#ff4747"/>
<polygon points="287.41,491.40 287.47,487.40 285.20,485.57 285.11,491.36" fill="#bf0000"/>
<polygon points="280.00,588.00 286.75,591.99 286.75,592.99 273.25,593.01 273.25,592.01" fill="#ff0000"/>
<polygon points="273.25,593.01 273.25,592.01 275.41,590.73 275.41,593.01" fill="#ff4747"/>
<polygon points="286.75,592.99 286.75,591.99 284.46,590.63 284.46,592.99" fill="#bf0000"/>
<polygon points="280.02,599.00 286.78,604.28 286.80,609.97 273.30,610.03 273.28,604.32" fill="#ff0000"/>
<polygon points="273.30,610.03 273.28,604.32 275.44,602.62 275.46,610.02" fill="#ff4747"/>
<polygon points="286.80,609.97 286.78,604.28 284.48,602.48 284.51,609.98" fill="#bf0000"/>
<polygon points="334.07,1.00 341.28,-3.67 341.62,-7.37 328.18,-8.63 327.84,-4.93" fill="#00bfff"/>
<polygon points="328.18,-8.63 327.84,-4.93 329.83,-3.03 330.33,-8.43" fill="#47d1ff"/>
<polygon points="341.62,-7.37 341.28,-3.67 338.83,-2.09 339.34,-7.58" fill="#008fbf"/>
<polygon points="331.93,24.70 339.07,20.60 339.07,20.60 325.62,19.40 325.62,19.40" fill="#0000ff"/>
<polygon points="325.62,19.40 325.62,19.40 327.64,21.10 327.77,19.59" fill="#4747ff"/>
<polygon points="339.07,20.60 339.07,20.60 336.64,21.99 336.78,20.40" fill="#0000bf"/>
<polygon points="331.35,31.30 338.54,26.59 338.54,26.59 325.09,25.41 325.09,25.41" fill="#0000ff"/>
<polygon points="325.09,25.41 325.09,25.41 327.09,27.29 327.24,25.60" fill="#4747ff"/>
<polygon points="338.54,26.59 338.54,26.59 336.09,28.19 336.25,26.39" fill="#0000bf"/>
<polygon points="330.71,38.70 337.89,33.98 337.95,33.29 324.50,32.11 324.44,32.82" fill="#0000ff"/>
<polygon points="324.50,32.11 324.44,32.82 326.45,34.70 326.65,32.30" fill="#4747ff"/>
<polygon points="337.95,33.29 337.89,33.98 335.45,35.59 335.66,33.09" fill="#0000bf"/>
<polygon points="329.58,52.00 336.75,47.27 336.75,47.27 323.30,46.13 323.30,46.13" fill="#0000ff"/>
<polygon points="323.30,46.13 323.30,46.13 325.31,48.01 325.45,46.31" fill="#4747ff"/>
<polygon points="336.75,47.27 336.75,47.27 334.31,48.88 334.46,47.08" fill="#0000bf"/>
<polygon points="328.60,63.70 335.77,58.96 335.80,58.56 322.35,57.44 322.31,57.84" fill="#0000ff"/>
<polygon points="322.35,57.44 322.31,57.84 324.33,59.72 324.50,57.62" fill="#4747ff"/>
<polygon points="335.80,58.56 335.77,58.96 333.33,60.57 333.51,58.37" fill="#0000bf"/>
<polygon points="327.63,75.70 334.78,70.95 334.87,69.85 321.42,68.75 321.33,69.85" fill="#0000ff"/>
<polygon points="321.42,68.75 321.33,69.85 323.34,71.73 323.57,68.93" fill="#4747ff"/>
<polygon points="334.87,69.85 334.78,70.95 332.35,72.56 332.59,69.66" fill="#0000bf"/>
<polygon points="325.39,104.40 332.52,99.62 332.53,99.52 319.07,98.48 319.06,98.58" fill="#0000ff"/>
<polygon points="319.07,98.48 319.06,98.58 321.09,100.45 321.23,98.65" fill="#4747ff"/>
<polygon points="332.53,99.52 332.52,99.62 330.10,101.24 330.24,99.34" fill="#0000bf"/>
<polygon points="324.82,112.00 331.95,107.21 332.05,105.81 318.59,104.79 318.49,106.19" fill="#0000ff"/>
<polygon points="318.59,104.79 318.49,106.19 320.51,108.05 320.75,104.95" fill="#4747ff"/>
<polygon points="332.05,105.81 331.95,107.21 329.52,108.84 329.76,105.64" fill="#0000bf"/>
<polygon points="321.70,155.90 328.80,151.06 328.81,150.86 315.34,149.94 315.33,150.14" fill="#0000ff"/>
<polygon points="315.34,149.94 315.33,150.14 317.37,151.98 317.50,150.09" fill="#4747ff"/>
<polygon points="328.81,150.86 328.80,151.06 326.39,152.70 326.52,150.70" fill="#0000bf"/>
<polygon points="321.34,161.30 328.43,156.45 328.45,156.15 314.98,155.25 314.96,155.55" fill="#0000ff"/>
<polygon points="314.98,155.25 314.96,155.55 317.00,157.39 317.14,155.39" fill="#4747ff"/>
<polygon points="328.45,156.15 328.43,156.45 326.02,158.10 326.16,156.00" fill="#0000bf"/>
<polygon points="320.81,169.30 327.90,164.45 328.03,162.45 314.56,161.55 314.43,163.55" fill="#0000ff"/>
<polygon points="314.56,161.55 314.43,163.55 316.47,165.39 316.71,161.70" fill="#4747ff"/>
<polygon points="328.03,162.45 327.90,164.45 325.49,166.10 325.74,162.30" fill="#0000bf"/>
<polygon points="319.62,188.00 326.69,183.13 327.46,171.14 313.99,170.26 313.21,182.27" fill="#0000ff"/>
<polygon points="313.99,170.26 313.21,182.27 315.26,184.11 316.14,170.40" fill="#4747ff"/>
<polygon points="327.46,171.14 326.69,183.13 324.28,184.78 325.17,170.99" fill="#0000bf"/>
<polygon points="319.12,196.00 326.19,191.12 326.34,188.72 312.86,187.88 312.71,190.28" fill="#0000ff"/>
<polygon points="312.86,187.88 312.71,190.28 314.76,192.11 315.02,188.01" fill="#4747ff"/>
<polygon points="326.34,188.72 326.19,191.12 323.79,192.78 324.05,188.58" fill="#0000bf"/>
<polygon points="318.44,207.30 325.50,202.41 325.80,197.41 312.33,196.59 312.02,201.59" fill="#0000ff"/>
<polygon points="312.33,196.59 312.02,201.59 314.08,203.42 314.48,196.72" fill="#4747ff"/>
<polygon points="325.80,197.41 325.50,202.41 323.10,204.07 323.51,197.27" fill="#0000bf"/>
<polygon points="315.79,255.00 322.81,250.05 323.04,245.66 309.56,244.94 309.33,249.35" fill="#0000ff"/>
<polygon points="309.56,244.94 309.33,249.35 311.40,251.16 311.72,245.06" fill="#4747ff"/>
<polygon points="323.04,245.66 322.81,250.05 320.42,251.73 320.75,245.54" fill="#0000bf"/>
<polygon points="314.63,278.20 321.63,273.23 322.16,262.64 308.68,261.96 308.15,272.57" fill="#0000ff"/>
<polygon points="308.68,261.96 308.15,272.57 310.22,274.37 310.83,262.07" fill="#4747ff"/>
<polygon points="322.16,262.64 321.63,273.23 319.25,274.92 319.87,262.53" fill="#0000bf"/>
<polygon points="314.28,285.60 321.27,280.62 321.34,279.32 307.85,278.68 307.79,279.98" fill="#0000ff"/>
<polygon points="307.85,278.68 307.79,279.98 309.87,281.78 310.01,278.78" fill="#4747ff"/>
<polygon points="321.34,279.32 321.27,280.62 318.90,282.31 319.04,279.21" fill="#0000bf"/>
<polygon points="314.05,290.60 321.01,286.12 321.01,286.12 307.53,285.48 307.53,285.48" fill="#0000ff"/>
<polygon points="307.53,285.48 307.53,285.48 309.61,287.12 309.69,285.58" fill="#4747ff"/>
<polygon points="321.01,286.12 321.01,286.12 318.65,287.64 318.72,286.01" fill="#0000bf"/>
<polygon points="313.82,295.60 320.80,290.81 320.80,290.81 307.31,290.19 307.31,290.19" fill="#0000ff"/>
<polygon points="307.31,290.19 307.31,290.19 309.39,291.92 309.47,290.29" fill="#4747ff"/>
<polygon points="320.80,290.81 320.80,290.81 318.42,292.44 318.50,290.71" fill="#0000bf"/>
<polygon points="313.64,299.60 320.55,296.11 320.55,296.11 307.07,295.49 307.07,295.49" fill="#0000ff"/>
<polygon points="307.07,295.49 307.07,295.49 309.17,296.81 309.22,295.59" fill="#4747ff"/>
<polygon points="320.55,296.11 320.55,296.11 318.20,297.29 318.26,296.00" fill="#0000bf"/>
<polygon points="313.43,304.20 320.39,299.80 320.39,299.80 306.90,299.20 306.90,299.20" fill="#0000ff"/>
<polygon points="306.90,299.20 306.90,299.20 308.99,300.80 309.06,299.29" fill="#4747ff"/>
<polygon points="320.39,299.80 320.39,299.80 318.02,301.30 318.09,299.70" fill="#0000bf"/>
<polygon points="313.22,309.20 320.17,304.80 320.17,304.80 306.68,304.20 306.68,304.20" fill="#0000ff"/>
<polygon points="306.68,304.20 306.68,304.20 308.77,305.80 308.84,304.30" fill="#4747ff"/>
<polygon points="320.17,304.80 320.17,304.80 317.80,306.29 317.87,304.70" fill="#0000bf"/>
<polygon points="312.90,316.70 319.87,311.69 319.93,310.29 306.44,309.71 306.38,311.11" fill="#0000ff"/>
<polygon points="306.44,309.71 306.38,311.11 308.46,312.90 308.60,309.80" fill="#4747ff"/>
<polygon points="319.93,310.29 319.87,311.69 317.50,313.39 317.63,310.19" fill="#0000bf"/>
<polygon points="310.99,366.70 317.92,361.64 318.07,357.54 304.57,357.06 304.43,361.16" fill="#0000ff"/>
<polygon points="304.57,357.06 304.43,361.16 306.53,362.94 306.73,357.14" fill="#4747ff"/>
<polygon points="318.07,357.54 317.92,361.64 315.56,363.36 315.77,357.46" fill="#0000bf"/>
<polygon points="310.74,374.20 317.65,369.53 317.65,369.53 304.16,369.07 304.16,369.07" fill="#0000ff"/>
<polygon points="304.16,369.07 304.16,369.07 306.26,370.71 306.32,369.15" fill="#4747ff"/>
<polygon points="317.65,369.53 317.65,369.53 315.30,371.12 315.36,369.45" fill="#0000bf"/>
<polygon points="310.52,381.00 317.44,375.92 317.49,374.22 304.00,373.78 303.94,375.48" fill="#0000ff"/>
<polygon points="304.00,373.78 303.94,375.48 306.05,377.25 306.16,373.85" fill="#4747ff"/>
<polygon points="317.49,374.22 317.44,375.92 315.09,377.65 315.20,374.15" fill="#0000bf"/>
<polygon points="309.89,402.00 316.79,396.90 317.08,387.21 303.58,386.79 303.29,396.50" fill="#0000ff"/>
<polygon points="303.58,386.79 303.29,396.50 305.40,398.26 305.74,386.86" fill="#4747ff"/>
<polygon points="317.08,387.21 316.79,396.90 314.44,398.63 314.78,387.14" fill="#0000bf"/>
<polygon points="309.41,419.30 316.30,414.18 316.60,403.19 303.11,402.81 302.81,413.82" fill="#0000ff"/>
<polygon points="303.11,402.81 302.81,413.82 304.92,415.57 305.27,402.87" fill="#4747ff"/>
<polygon points="316.60,403.19 316.30,414.18 313.96,415.92 314.31,403.13" fill="#0000bf"/>
<polygon points="309.00,436.00 315.86,431.46 315.86,431.46 302.37,431.14 302.37,431.14" fill="#0000ff"/>
<polygon points="302.37,431.14 302.37,431.14 304.49,432.70 304.53,431.19" fill="#4747ff"/>
<polygon points="315.86,431.46 315.86,431.46 313.53,433.00 313.57,431.41" fill="#0000bf"/>
<polygon points="308.70,449.60 315.56,444.55 315.56,444.55 302.07,444.25 302.07,444.25" fill="#0000ff"/>
<polygon points="302.07,444.25 302.07,444.25 304.19,445.96 304.23,444.30" fill="#4747ff"/>
<polygon points="315.56,444.55 315.56,444.55 313.23,446.26 313.27,444.50" fill="#0000bf"/>
<polygon points="307.87,498.20 314.68,493.40 314.68,493.40 301.18,493.20 301.18,493.20" fill="#0000ff"/>
<polygon points="301.18,493.20 301.18,493.20 303.32,494.80 303.34,493.23" fill="#4747ff"/>
<polygon points="314.68,493.40 314.68,493.40 312.37,495.03 312.39,493.36" fill="#0000bf"/>
<polygon points="307.60,521.30 314.40,516.07 314.62,498.09 301.12,497.91 300.90,515.93" fill="#0000ff"/>
<polygon points="301.12,497.91 300.90,515.93 303.05,517.65 303.28,497.94" fill="#4747ff"/>
<polygon points="314.62,498.09 314.40,516.07 312.09,517.85 312.32,498.06" fill="#0000bf"/>
<polygon points="307.53,529.00 314.33,523.76 314.33,523.06 300.83,522.94 300.83,523.64" fill="#0000ff"/>
<polygon points="300.83,522.94 300.83,523.64 302.97,525.35 302.99,522.96" fill="#4747ff"/>
<polygon points="314.33,523.06 314.33,523.76 312.01,525.54 312.04,523.04" fill="#0000bf"/>
<polygon points="307.41,545.30 314.19,540.05 314.27,529.76 300.77,529.64 300.69,539.95" fill="#0000ff"/>
<polygon points="300.77,529.64 300.69,539.95 302.84,541.67 302.93,529.66" fill="#4747ff"/>
<polygon points="314.27,529.76 314.19,540.05 311.89,541.83 311.98,529.74" fill="#0000bf"/>
<polygon points="307.37,551.90 314.15,547.04 314.15,547.04 300.65,546.96 300.65,546.96" fill="#0000ff"/>
<polygon points="300.65,546.96 300.65,546.96 302.80,548.54 302.81,546.97" fill="#4747ff"/>
<polygon points="314.15,547.04 314.15,547.04 311.85,548.69 311.86,547.03" fill="#0000bf"/>
<polygon points="307.34,560.50 314.11,556.03 314.11,556.03 300.61,555.97 300.61,555.97" fill="#0000ff"/>
<polygon points="300.61,555.97 300.61,555.97 302.76,557.42 302.77,555.98" fill="#4747ff"/>
<polygon points="314.11,556.03 314.11,556.03 311.80,557.55 311.81,556.02" fill="#0000bf"/>
<polygon points="307.31,572.00 314.07,566.72 314.09,560.52 300.59,560.48 300.57,566.68" fill="#0000ff"/>
<polygon points="300.59,560.48 300.57,566.68 302.72,568.39 302.75,560.48" fill="#4747ff"/>
<polygon points="314.09,560.52 314.07,566.72 311.77,568.51 311.79,560.52" fill="#0000bf"/>
<polygon points="307.30,584.00 314.05,578.70 314.05,575.01 300.55,574.99 300.55,578.70" fill="#0000ff"/>
<polygon points="300.55,574.99 300.55,578.70 302.71,580.39 302.71,574.99" fill="#4747ff"/>
<polygon points="314.05,575.01 314.05,578.70 311.75,580.50 311.76,575.01" fill="#0000bf"/>
<polygon points="307.33,603.00 314.06,597.68 314.06,595.29 300.56,595.31 300.56,597.72" fill="#0000ff"/>
<polygon points="300.56,595.31 300.56,597.72 302.73,599.41 302.72,595.31" fill="#4747ff"/>
<polygon points="314.06,595.29 314.06,597.68 311.77,599.49 311.76,595.29" fill="#0000bf"/>
<polygon points="307.35,558.30 314.11,554.65 314.12,553.73 300.62,553.67 300.61,554.59" fill="#22c8f0"/>
<polygon points="300.62,553.67 300.61,554.59 302.77,555.78 302.78,553.68" fill="#60d7f4"/>
<polygon points="314.12,553.73 314.11,554.65 311.81,555.89 311.82,553.72" fill="#1a96b4"/>
<polygon points="343.64,21.12 357.09,22.32 356.47,29.29 343.02,28.11" fill="#5a5ab8"/>
<polygon points="343.64,21.12 345.79,21.31 345.17,28.30 343.02,28.11" fill="#8c8ccd"/>
<polygon points="354.67,22.10 357.09,22.32 356.47,29.29 354.05,29.08" fill="#44448a"/>
<polygon points="343.02,28.11 356.47,29.29 356.30,31.19 342.85,30.01" fill="#d3d3d3"/>
<polygon points="343.02,28.11 345.17,28.30 345.01,30.20 342.85,30.01" fill="#e0e0e0"/>
<polygon points="354.05,29.08 356.47,29.29 356.30,31.19 353.88,30.98" fill="#9e9e9e"/>
<polygon points="342.85,30.11 356.29,31.29 356.13,33.18 342.68,32.00" fill="#cdcdcd"/>
<polygon points="342.85,30.11 345.00,30.30 344.83,32.19 342.68,32.00" fill="#dcdcdc"/>
<polygon points="353.87,31.08 356.29,31.29 356.13,33.18 353.71,32.96" fill="#9a9a9a"/>
<polygon points="342.52,33.82 355.97,34.99 355.46,40.87 342.01,39.71" fill="#4682b4"/>
<polygon points="342.52,33.82 344.67,34.01 344.16,39.90 342.01,39.71" fill="#7ea8ca"/>
<polygon points="353.55,34.78 355.97,34.99 355.46,40.87 353.04,40.66" fill="#346287"/>
<polygon points="340.31,59.83 353.76,60.95 353.39,65.46 339.94,64.36" fill="#c0c0c0"/>
<polygon points="340.31,59.83 342.46,60.01 342.09,64.54 339.94,64.36" fill="#d3d3d3"/>
<polygon points="351.34,60.75 353.76,60.95 353.39,65.46 350.97,65.27" fill="#909090"/>
<polygon points="337.04,100.84 350.50,101.87 350.18,106.15 336.72,105.13" fill="#4682b4"/>
<polygon points="337.04,100.84 339.20,101.01 338.87,105.30 336.72,105.13" fill="#7ea8ca"/>
<polygon points="348.08,101.69 350.50,101.87 350.18,106.15 347.76,105.97" fill="#346287"/>
<polygon points="333.35,151.86 346.82,152.78 346.51,157.45 333.04,156.55" fill="#ff8c00"/>
<polygon points="333.35,151.86 335.51,152.01 335.19,156.69 333.04,156.55" fill="#ffae4c"/>
<polygon points="344.40,152.61 346.82,152.78 346.51,157.45 344.08,157.29" fill="#bf6900"/>
<polygon points="333.04,156.55 346.51,157.45 346.10,163.45 332.63,162.55" fill="#00ced1"/>
<polygon points="333.04,156.55 335.19,156.69 334.79,162.70 332.63,162.55" fill="#4cdddf"/>
<polygon points="344.08,157.29 346.51,157.45 346.10,163.45 343.68,163.29" fill="#009a9d"/>
<polygon points="332.63,162.55 346.10,163.45 345.58,171.44 332.10,170.56" fill="#00ffff"/>
<polygon points="332.63,162.55 334.79,162.70 334.26,170.70 332.10,170.56" fill="#4cffff"/>
<polygon points="343.68,163.29 346.10,163.45 345.58,171.44 343.15,171.28" fill="#00bfbf"/>
<polygon points="332.07,171.06 345.54,171.94 344.37,190.42 330.89,189.58" fill="#00ffff"/>
<polygon points="332.07,171.06 334.23,171.20 333.05,189.71 330.89,189.58" fill="#4cffff"/>
<polygon points="343.12,171.78 345.54,171.94 344.37,190.42 341.94,190.27" fill="#00bfbf"/>
<polygon points="330.89,189.58 344.37,190.42 343.93,197.42 330.46,196.60" fill="#696969"/>
<polygon points="330.89,189.58 333.05,189.71 332.61,196.73 330.46,196.60" fill="#969696"/>
<polygon points="341.94,190.27 344.37,190.42 343.93,197.42 341.51,197.27" fill="#4f4f4f"/>
<polygon points="330.36,198.17 343.84,198.99 343.27,208.42 329.79,207.62" fill="#c0c0c0"/>
<polygon points="330.36,198.17 332.52,198.30 331.95,207.74 329.79,207.62" fill="#d3d3d3"/>
<polygon points="341.41,198.85 343.84,198.99 343.27,208.42 340.84,208.27" fill="#909090"/>
<polygon points="327.62,246.19 334.36,246.55 333.84,256.45 327.10,256.10" fill="#4682b4"/>
<polygon points="327.62,246.19 329.64,246.30 329.12,256.21 327.10,256.10" fill="#7ea8ca"/>
<polygon points="332.34,246.44 334.36,246.55 333.84,256.45 331.82,256.35" fill="#346287"/>
<polygon points="334.36,246.55 341.10,246.91 340.58,256.80 333.84,256.45" fill="#ff8c00"/>
<polygon points="334.36,246.55 336.38,246.66 335.86,256.56 333.84,256.45" fill="#ffae4c"/>
<polygon points="339.08,246.80 341.10,246.91 340.58,256.80 338.56,256.70" fill="#bf6900"/>
<polygon points="326.75,262.89 340.24,263.57 339.45,279.49 325.96,278.84" fill="#00ced1"/>
<polygon points="326.75,262.89 328.91,263.00 328.12,278.95 325.96,278.84" fill="#4cdddf"/>
<polygon points="337.81,263.45 340.24,263.57 339.45,279.49 337.02,279.37" fill="#009a9d"/>
<polygon points="325.56,287.40 339.04,288.03 338.90,291.21 325.41,290.59" fill="#0000ff"/>
<polygon points="325.56,287.40 327.72,287.51 327.57,290.69 325.41,290.59" fill="#4c4cff"/>
<polygon points="336.62,287.92 339.04,288.03 338.90,291.21 336.47,291.10" fill="#0000bf"/>
<polygon points="325.42,290.49 338.90,291.11 338.59,297.99 325.10,297.38" fill="#483d8b"/>
<polygon points="325.42,290.49 327.57,290.59 327.26,297.48 325.10,297.38" fill="#7f77ae"/>
<polygon points="336.47,291.00 338.90,291.11 338.59,297.99 336.16,297.88" fill="#362e68"/>
<polygon points="324.98,300.11 338.46,300.71 338.23,306.10 324.74,305.50" fill="#6b8e23"/>
<polygon points="324.98,300.11 327.14,300.20 326.90,305.60 324.74,305.50" fill="#97b065"/>
<polygon points="336.04,300.60 338.46,300.71 338.23,306.10 335.80,305.99" fill="#506a1a"/>
<polygon points="324.74,305.50 338.23,306.10 338.03,310.49 324.55,309.90" fill="#ff8c00"/>
<polygon points="324.74,305.50 326.90,305.60 326.70,310.00 324.55,309.90" fill="#ffae4c"/>
<polygon points="335.80,305.99 338.23,306.10 338.03,310.49 335.61,310.38" fill="#bf6900"/>
<polygon points="324.50,310.91 337.99,311.49 337.73,317.58 324.24,317.02" fill="#6b8e23"/>
<polygon points="324.50,310.91 326.66,311.00 326.40,317.11 324.24,317.02" fill="#97b065"/>
<polygon points="335.56,311.39 337.99,311.49 337.73,317.58 335.30,317.48" fill="#506a1a"/>
<polygon points="322.67,357.62 329.41,357.86 329.09,367.14 322.34,366.90" fill="#adff2f"/>
<polygon points="322.67,357.62 324.69,357.70 324.37,366.97 322.34,366.90" fill="#c6ff6d"/>
<polygon points="327.39,357.79 329.41,357.86 329.09,367.14 327.06,367.07" fill="#82bf23"/>
<polygon points="329.41,357.86 336.16,358.11 335.83,367.37 329.09,367.14" fill="#228b22"/>
<polygon points="329.41,357.86 331.44,357.94 331.11,367.20 329.09,367.14" fill="#64ae64"/>
<polygon points="334.13,358.03 336.16,358.11 335.83,367.37 333.81,367.30" fill="#1a681a"/>
<polygon points="322.21,370.93 335.70,371.38 335.58,375.02 322.08,374.58" fill="#6b8e23"/>
<polygon points="322.21,370.93 324.36,371.00 324.24,374.65 322.08,374.58" fill="#97b065"/>
<polygon points="333.27,371.30 335.70,371.38 335.58,375.02 333.15,374.94" fill="#506a1a"/>
<polygon points="322.09,374.48 335.58,374.92 335.35,382.06 321.86,381.63" fill="#00bfff"/>
<polygon points="322.09,374.48 324.25,374.55 324.01,381.70 321.86,381.63" fill="#4cd2ff"/>
<polygon points="333.15,374.84 335.58,374.92 335.35,382.06 332.92,381.98" fill="#008fbf"/>
<polygon points="321.68,387.23 335.17,387.65 334.72,402.75 321.23,402.37" fill="#ff1493"/>
<polygon points="321.68,387.23 323.84,387.30 323.39,402.43 321.23,402.37" fill="#ff5ab3"/>
<polygon points="332.74,387.57 335.17,387.65 334.72,402.75 332.29,402.68" fill="#bf0f6e"/>
<polygon points="320.44,432.65 333.93,432.97 333.88,435.35 320.38,435.03" fill="#696969"/>
<polygon points="320.44,432.65 322.60,432.70 322.54,435.08 320.38,435.03" fill="#969696"/>
<polygon points="331.50,432.91 333.93,432.97 333.88,435.35 331.45,435.29" fill="#4f4f4f"/>
<polygon points="320.16,444.95 333.65,445.25 333.55,450.04 320.05,449.76" fill="#ff8c00"/>
<polygon points="320.16,444.95 322.32,445.00 322.21,449.80 320.05,449.76" fill="#ffae4c"/>
<polygon points="331.22,445.20 333.65,445.25 333.55,450.04 331.12,449.99" fill="#bf6900"/>
<polygon points="319.28,493.67 332.78,493.86 332.72,498.09 319.22,497.91" fill="#ff8c00"/>
<polygon points="319.28,493.67 321.44,493.70 321.38,497.94 319.22,497.91" fill="#ffae4c"/>
<polygon points="330.35,493.83 332.78,493.86 332.72,498.09 330.29,498.06" fill="#bf6900"/>
<polygon points="319.22,497.91 332.72,498.09 332.45,521.71 318.95,521.58" fill="#f0e68c"/>
<polygon points="319.22,497.91 321.38,497.94 321.11,521.60 318.95,521.58" fill="#f4eeae"/>
<polygon points="330.29,498.06 332.72,498.09 332.45,521.71 330.02,521.69" fill="#b4ac69"/>
<polygon points="318.93,523.38 332.43,523.51 332.38,529.02 318.88,528.90" fill="#f0e68c"/>
<polygon points="318.93,523.38 321.09,523.40 321.04,528.92 318.88,528.90" fill="#f4eeae"/>
<polygon points="330.00,523.48 332.43,523.51 332.38,529.02 329.95,528.99" fill="#b4ac69"/>
<polygon points="318.87,529.98 332.37,530.09 332.26,545.31 318.76,545.23" fill="#ff1493"/>
<polygon points="318.87,529.98 321.03,530.00 320.92,545.24 318.76,545.23" fill="#ff5ab3"/>
<polygon points="329.94,530.07 332.37,530.09 332.26,545.31 329.83,545.29" fill="#bf0f6e"/>
<polygon points="318.75,546.99 332.25,547.06 332.21,554.61 318.71,554.55" fill="#696969"/>
<polygon points="318.75,546.99 320.91,547.00 320.87,554.56 318.71,554.55" fill="#969696"/>
<polygon points="329.82,547.05 332.25,547.06 332.21,554.61 329.78,554.60" fill="#4f4f4f"/>
<polygon points="318.69,560.69 332.19,560.74 332.15,574.00 318.65,573.98" fill="#ff1493"/>
<polygon points="318.69,560.69 320.85,560.70 320.81,573.98 318.65,573.98" fill="#ff5ab3"/>
<polygon points="329.76,560.73 332.19,560.74 332.15,574.00 329.72,573.99" fill="#bf0f6e"/>
<polygon points="318.66,595.00 323.11,594.99 323.14,605.02 318.68,605.04" fill="#d3d3d3"/>
<polygon points="318.66,595.00 319.99,595.00 320.02,605.03 318.68,605.04" fill="#e0e0e0"/>
<polygon points="321.78,594.99 323.11,594.99 323.14,605.02 321.80,605.03" fill="#9e9e9e"/>
<polygon points="323.11,594.99 327.57,594.98 327.59,605.01 323.14,605.02" fill="#4682b4"/>
<polygon points="323.11,594.99 324.45,594.99 324.48,605.02 323.14,605.02" fill="#7ea8ca"/>
<polygon points="326.23,594.99 327.57,594.98 327.59,605.01 326.26,605.01" fill="#346287"/>
<polygon points="327.57,594.98 332.16,594.97 332.18,604.99 327.59,605.01" fill="#00ced1"/>
<polygon points="327.57,594.98 328.94,594.98 328.97,605.00 327.59,605.01" fill="#4cdddf"/>
<polygon points="330.78,594.98 332.16,594.97 332.18,604.99 330.81,604.99" fill="#009a9d"/>
<line x1="214.50" y1="45.50" x2="261.00" y2="61.00" stroke="#ff0000" stroke-width="1.1"/>
<line x1="213.00" y1="63.00" x2="260.00" y2="73.50" stroke="#ff0000" stroke-width="1.1"/>
<line x1="212.00" y1="79.50" x2="260.00" y2="80.50" stroke="#ff0000" stroke-width="1.1"/>
<line x1="211.00" y1="95.50" x2="259.00" y2="91.00" stroke="#ff0000" stroke-width="1.1"/>
<line x1="210.00" y1="111.00" x2="257.30" y2="109.50" stroke="#ff0000" stroke-width="1.1"/>
<line x1="209.00" y1="127.00" x2="257.00" y2="111.50" stroke="#ff0000" stroke-width="1.1"/>
<line x1="207.00" y1="143.00" x2="257.00" y2="118.40" stroke="#ff0000" stroke-width="1.1"/>
<line x1="206.00" y1="157.00" x2="256.00" y2="127.00" stroke="#ff0000" stroke-width="1.1"/>
<line x1="205.00" y1="171.00" x2="255.30" y2="135.30" stroke="#ff0000" stroke-width="1.1"/>
<line x1="205.00" y1="186.00" x2="254.70" y2="142.70" stroke="#ff0000" stroke-width="1.1"/>
<line x1="204.00" y1="200.00" x2="251.00" y2="206.50" stroke="#ff0000" stroke-width="1.1"/>
<line x1="203.00" y1="214.50" x2="250.00" y2="212.00" stroke="#ff0000" stroke-width="1.1"/>
<line x1="202.00" y1="229.00" x2="250.00" y2="218.50" stroke="#ff0000" stroke-width="1.1"/>
<line x1="201.50" y1="244.00" x2="249.00" y2="228.00" stroke="#ff0000" stroke-width="1.1"/>
<line x1="201.00" y1="259.00" x2="249.00" y2="237.50" stroke="#ff0000" stroke-width="1.1"/>
<line x1="200.00" y1="275.00" x2="247.40" y2="255.00" stroke="#ff0000" stroke-width="1.1"/>
<line x1="198.00" y1="301.00" x2="244.70" y2="317.00" stroke="#ff0000" stroke-width="1.1"/>
<line x1="198.00" y1="315.00" x2="244.70" y2="325.30" stroke="#ff0000" stroke-width="1.1"/>
<line x1="197.00" y1="330.00" x2="244.70" y2="335.30" stroke="#ff0000" stroke-width="1.1"/>
<line x1="196.50" y1="349.00" x2="244.70" y2="342.40" stroke="#ff0000" stroke-width="1.1"/>
<line x1="196.00" y1="363.50" x2="244.70" y2="348.30" stroke="#ff0000" stroke-width="1.1"/>
<line x1="195.00" y1="415.00" x2="241.70" y2="424.70" stroke="#ff0000" stroke-width="1.1"/>
<line x1="194.00" y1="430.50" x2="241.00" y2="437.70" stroke="#ff0000" stroke-width="1.1"/>
<line x1="194.00" y1="447.00" x2="240.70" y2="453.30" stroke="#ff0000" stroke-width="1.1"/>
<line x1="193.50" y1="463.00" x2="240.70" y2="460.70" stroke="#ff0000" stroke-width="1.1"/>
<line x1="193.50" y1="477.50" x2="240.70" y2="472.70" stroke="#ff0000" stroke-width="1.1"/>
<line x1="193.00" y1="496.00" x2="240.70" y2="485.60" stroke="#ff0000" stroke-width="1.1"/>
<line x1="371.70" y1="39.40" x2="421.00" y2="43.90" stroke="#0000ff" stroke-width="1.1"/>
<line x1="370.70" y1="53.30" x2="418.00" y2="60.00" stroke="#0000ff" stroke-width="1.1"/>
<line x1="369.30" y1="64.70" x2="416.50" y2="74.50" stroke="#0000ff" stroke-width="1.1"/>
<line x1="368.70" y1="76.00" x2="415.00" y2="88.00" stroke="#0000ff" stroke-width="1.1"/>
<line x1="366.00" y1="105.00" x2="414.00" y2="103.50" stroke="#0000ff" stroke-width="1.1"/>
<line x1="365.00" y1="112.00" x2="414.00" y2="118.50" stroke="#0000ff" stroke-width="1.1"/>
<line x1="362.50" y1="156.50" x2="413.00" y2="133.00" stroke="#0000ff" stroke-width="1.1"/>
<line x1="362.00" y1="162.00" x2="412.00" y2="146.50" stroke="#0000ff" stroke-width="1.1"/>
<line x1="362.00" y1="168.50" x2="411.00" y2="163.50" stroke="#0000ff" stroke-width="1.1"/>
<line x1="360.50" y1="182.50" x2="410.00" y2="180.00" stroke="#0000ff" stroke-width="1.1"/>
<line x1="360.00" y1="195.00" x2="408.00" y2="195.50" stroke="#0000ff" stroke-width="1.1"/>
<line x1="359.00" y1="204.50" x2="407.00" y2="211.00" stroke="#0000ff" stroke-width="1.1"/>
<line x1="356.40" y1="252.80" x2="406.50" y2="229.00" stroke="#0000ff" stroke-width="1.1"/>
<line x1="355.50" y1="272.70" x2="405.70" y2="243.50" stroke="#0000ff" stroke-width="1.1"/>
<line x1="355.30" y1="284.30" x2="405.70" y2="257.50" stroke="#0000ff" stroke-width="1.1"/>
<line x1="355.30" y1="290.40" x2="404.50" y2="271.50" stroke="#0000ff" stroke-width="1.1"/>
<line x1="354.10" y1="295.60" x2="403.30" y2="287.30" stroke="#0000ff" stroke-width="1.1"/>
<line x1="354.10" y1="301.10" x2="402.80" y2="302.30" stroke="#0000ff" stroke-width="1.1"/>
<line x1="354.10" y1="304.20" x2="402.80" y2="316.80" stroke="#0000ff" stroke-width="1.1"/>
<line x1="353.75" y1="309.30" x2="402.20" y2="335.30" stroke="#0000ff" stroke-width="1.1"/>
<line x1="353.40" y1="315.10" x2="401.00" y2="349.50" stroke="#0000ff" stroke-width="1.1"/>
<line x1="351.50" y1="363.00" x2="401.00" y2="365.00" stroke="#0000ff" stroke-width="1.1"/>
<line x1="351.00" y1="373.50" x2="400.00" y2="381.00" stroke="#0000ff" stroke-width="1.1"/>
<line x1="351.00" y1="378.00" x2="400.00" y2="397.00" stroke="#0000ff" stroke-width="1.1"/>
<line x1="350.50" y1="395.50" x2="400.00" y2="410.50" stroke="#0000ff" stroke-width="1.1"/>
<line x1="350.00" y1="412.00" x2="399.00" y2="425.00" stroke="#0000ff" stroke-width="1.1"/>
<line x1="350.00" y1="434.00" x2="399.00" y2="438.00" stroke="#0000ff" stroke-width="1.1"/>
<line x1="349.00" y1="448.00" x2="399.00" y2="454.00" stroke="#0000ff" stroke-width="1.1"/>
<line x1="348.50" y1="496.50" x2="398.00" y2="470.00" stroke="#0000ff" stroke-width="1.1"/>
<line x1="348.50" y1="510.00" x2="398.00" y2="484.50" stroke="#0000ff" stroke-width="1.1"/>
<line x1="348.00" y1="526.00" x2="398.00" y2="498.00" stroke="#0000ff" stroke-width="1.1"/>
<line x1="348.00" y1="538.00" x2="398.00" y2="516.00" stroke="#0000ff" stroke-width="1.1"/>
<line x1="348.00" y1="551.00" x2="397.00" y2="530.50" stroke="#0000ff" stroke-width="1.1"/>
<line x1="348.00" y1="556.00" x2="397.00" y2="549.00" stroke="#33ccff" stroke-width="1.1"/>
<line x1="348.00" y1="558.00" x2="446.00" y2="558.00" stroke="#6b6bf5" stroke-width="1.8"/>
<rect x="370.70" y="99.00" width="39.00" height="9" fill="#fff" opacity="0.5"/>
<rect x="366.90" y="165.20" width="39.00" height="9" fill="#fff" opacity="0.5"/>
<rect x="362.90" y="232.30" width="39.00" height="9" fill="#fff" opacity="0.5"/>
<rect x="359.80" y="298.10" width="39.00" height="9" fill="#fff" opacity="0.5"/>
<rect x="356.90" y="365.30" width="39.00" height="9" fill="#fff" opacity="0.5"/>
<rect x="355.80" y="431.40" width="39.00" height="9" fill="#fff" opacity="0.5"/>
<rect x="354.90" y="498.30" width="39.00" height="9" fill="#fff" opacity="0.5"/>
<rect x="353.80" y="564.10" width="39.00" height="9" fill="#fff" opacity="0.5"/>
<g opacity="0.995"><text transform="translate(190.65,46.70) scale(0.810,1)" textLength="26.97" lengthAdjust="spacing" fill="#ff0000" stroke="#ff0000" stroke-width="0.2" font-size="10.2">fabG</text><text transform="translate(165.35,64.70) scale(0.810,1)" textLength="56.36" lengthAdjust="spacing" fill="#ff0000" stroke="#ff0000" stroke-width="0.2" font-size="10.2">PFLU4644</text><text transform="translate(164.85,80.70) scale(0.810,1)" textLength="56.36" lengthAdjust="spacing" fill="#ff0000" stroke="#ff0000" stroke-width="0.2" font-size="10.2">PFLU4643</text><text transform="translate(163.85,96.70) scale(0.810,1)" textLength="56.36" lengthAdjust="spacing" fill="#ff0000" stroke="#ff0000" stroke-width="0.2" font-size="10.2">PFLU4642</text><text transform="translate(161.85,113.20) scale(0.810,1)" textLength="56.36" lengthAdjust="spacing" fill="#ff0000" stroke="#ff0000" stroke-width="0.2" font-size="10.2">PFLU4639</text><text transform="translate(160.35,128.70) scale(0.810,1)" textLength="56.36" lengthAdjust="spacing" fill="#ff0000" stroke="#ff0000" stroke-width="0.2" font-size="10.2">PFLU4638</text><text transform="translate(159.35,143.70) scale(0.810,1)" textLength="56.36" lengthAdjust="spacing" fill="#ff0000" stroke="#ff0000" stroke-width="0.2" font-size="10.2">PFLU4637</text><text transform="translate(158.35,157.70) scale(0.810,1)" textLength="56.36" lengthAdjust="spacing" fill="#ff0000" stroke="#ff0000" stroke-width="0.2" font-size="10.2">PFLU4636</text><text transform="translate(157.85,172.20) scale(0.810,1)" textLength="56.36" lengthAdjust="spacing" fill="#ff0000" stroke="#ff0000" stroke-width="0.2" font-size="10.2">PFLU4635</text><text transform="translate(156.85,186.70) scale(0.810,1)" textLength="56.36" lengthAdjust="spacing" fill="#ff0000" stroke="#ff0000" stroke-width="0.2" font-size="10.2">PFLU4634</text><text transform="translate(155.35,201.70) scale(0.810,1)" textLength="56.36" lengthAdjust="spacing" fill="#ff0000" stroke="#ff0000" stroke-width="0.2" font-size="10.2">PFLU4627</text><text transform="translate(154.85,215.70) scale(0.810,1)" textLength="56.36" lengthAdjust="spacing" fill="#ff0000" stroke="#ff0000" stroke-width="0.2" font-size="10.2">PFLU4626</text><text transform="translate(154.35,230.70) scale(0.810,1)" textLength="56.36" lengthAdjust="spacing" fill="#ff0000" stroke="#ff0000" stroke-width="0.2" font-size="10.2">PFLU4625</text><text transform="translate(152.35,246.20) scale(0.810,1)" textLength="56.36" lengthAdjust="spacing" fill="#ff0000" stroke="#ff0000" stroke-width="0.2" font-size="10.2">PFLU4624</text><text transform="translate(152.35,259.70) scale(0.810,1)" textLength="56.36" lengthAdjust="spacing" fill="#ff0000" stroke="#ff0000" stroke-width="0.2" font-size="10.2">PFLU4623</text><text transform="translate(150.35,275.70) scale(0.810,1)" textLength="56.36" lengthAdjust="spacing" fill="#ff0000" stroke="#ff0000" stroke-width="0.2" font-size="10.2">PFLU4621</text><text transform="translate(149.85,303.20) scale(0.810,1)" textLength="56.36" lengthAdjust="spacing" fill="#ff0000" stroke="#ff0000" stroke-width="0.2" font-size="10.2">PFLU4611</text><text transform="translate(149.85,316.70) scale(0.810,1)" textLength="56.36" lengthAdjust="spacing" fill="#ff0000" stroke="#ff0000" stroke-width="0.2" font-size="10.2">PFLU4610</text><text transform="translate(148.85,331.70) scale(0.810,1)" textLength="56.36" lengthAdjust="spacing" fill="#ff0000" stroke="#ff0000" stroke-width="0.2" font-size="10.2">PFLU4609</text><text transform="translate(148.85,350.70) scale(0.810,1)" textLength="56.36" lengthAdjust="spacing" fill="#ff0000" stroke="#ff0000" stroke-width="0.2" font-size="10.2">PFLU4608</text><text transform="translate(147.35,364.70) scale(0.810,1)" textLength="56.36" lengthAdjust="spacing" fill="#ff0000" stroke="#ff0000" stroke-width="0.2" font-size="10.2">PFLU4607</text><text transform="translate(146.85,416.70) scale(0.810,1)" textLength="56.36" lengthAdjust="spacing" fill="#ff0000" stroke="#ff0000" stroke-width="0.2" font-size="10.2">PFLU4599</text><text transform="translate(145.35,433.20) scale(0.810,1)" textLength="56.36" lengthAdjust="spacing" fill="#ff0000" stroke="#ff0000" stroke-width="0.2" font-size="10.2">PFLU4597</text><text transform="translate(145.35,448.70) scale(0.810,1)" textLength="56.36" lengthAdjust="spacing" fill="#ff0000" stroke="#ff0000" stroke-width="0.2" font-size="10.2">PFLU4595</text><text transform="translate(145.35,464.70) scale(0.810,1)" textLength="56.36" lengthAdjust="spacing" fill="#ff0000" stroke="#ff0000" stroke-width="0.2" font-size="10.2">PFLU4594</text><text transform="translate(145.35,478.70) scale(0.810,1)" textLength="56.36" lengthAdjust="spacing" fill="#ff0000" stroke="#ff0000" stroke-width="0.2" font-size="10.2">PFLU4593</text><text transform="translate(145.35,497.70) scale(0.810,1)" textLength="56.36" lengthAdjust="spacing" fill="#ff0000" stroke="#ff0000" stroke-width="0.2" font-size="10.2">PFLU4592</text><text transform="translate(422.65,45.90) scale(0.810,1)" textLength="56.73" lengthAdjust="spacing" fill="#0000ff" stroke="#0000ff" stroke-width="0.2" font-size="10.2">PFLU4652</text><text transform="translate(420.35,61.20) scale(0.810,1)" textLength="56.73" lengthAdjust="spacing" fill="#0000ff" stroke="#0000ff" stroke-width="0.2" font-size="10.2">PFLU4650</text><text transform="translate(419.35,75.70) scale(0.810,1)" textLength="56.73" lengthAdjust="spacing" fill="#0000ff" stroke="#0000ff" stroke-width="0.2" font-size="10.2">PFLU4647</text><text transform="translate(417.85,89.70) scale(0.810,1)" textLength="56.73" lengthAdjust="spacing" fill="#0000ff" stroke="#0000ff" stroke-width="0.2" font-size="10.2">PFLU4645</text><text transform="translate(417.15,105.90) scale(0.810,1)" textLength="25.23" lengthAdjust="spacing" fill="#0000ff" stroke="#0000ff" stroke-width="0.2" font-size="10.2">thrH</text><text transform="translate(416.55,119.70) scale(0.810,1)" textLength="64.50" lengthAdjust="spacing" fill="#0000ff" stroke="#0000ff" stroke-width="0.2" font-size="10.2">PFLU4639A</text><text transform="translate(415.55,134.70) scale(0.810,1)" textLength="56.73" lengthAdjust="spacing" fill="#0000ff" stroke="#0000ff" stroke-width="0.2" font-size="10.2">PFLU4633</text><text transform="translate(414.55,149.20) scale(0.810,1)" textLength="27.25" lengthAdjust="spacing" fill="#0000ff" stroke="#0000ff" stroke-width="0.2" font-size="10.2">prpB</text><text transform="translate(412.35,165.70) scale(0.810,1)" textLength="56.73" lengthAdjust="spacing" fill="#0000ff" stroke="#0000ff" stroke-width="0.2" font-size="10.2">PFLU4631</text><text transform="translate(411.60,181.70) scale(0.810,1)" textLength="56.73" lengthAdjust="spacing" fill="#0000ff" stroke="#0000ff" stroke-width="0.2" font-size="10.2">PFLU4630</text><text transform="translate(410.35,196.70) scale(0.810,1)" textLength="56.73" lengthAdjust="spacing" fill="#0000ff" stroke="#0000ff" stroke-width="0.2" font-size="10.2">PFLU4629</text><text transform="translate(409.35,212.70) scale(0.810,1)" textLength="28.21" lengthAdjust="spacing" fill="#0000ff" stroke="#0000ff" stroke-width="0.2" font-size="10.2">prpD</text><text transform="translate(407.85,230.70) scale(0.810,1)" textLength="56.73" lengthAdjust="spacing" fill="#0000ff" stroke="#0000ff" stroke-width="0.2" font-size="10.2">PFLU4622</text><text transform="translate(407.35,244.70) scale(0.810,1)" textLength="56.73" lengthAdjust="spacing" fill="#0000ff" stroke="#0000ff" stroke-width="0.2" font-size="10.2">PFLU4620</text><text transform="translate(407.35,259.70) scale(0.810,1)" textLength="56.73" lengthAdjust="spacing" fill="#0000ff" stroke="#0000ff" stroke-width="0.2" font-size="10.2">PFLU4619</text><text transform="translate(405.85,273.70) scale(0.810,1)" textLength="56.73" lengthAdjust="spacing" fill="#0000ff" stroke="#0000ff" stroke-width="0.2" font-size="10.2">PFLU4617</text><text transform="translate(405.35,288.70) scale(0.810,1)" textLength="56.73" lengthAdjust="spacing" fill="#0000ff" stroke="#0000ff" stroke-width="0.2" font-size="10.2">PFLU4616</text><text transform="translate(404.35,303.70) scale(0.810,1)" textLength="56.73" lengthAdjust="spacing" fill="#0000ff" stroke="#0000ff" stroke-width="0.2" font-size="10.2">PFLU4615</text><text transform="translate(404.35,319.20) scale(0.810,1)" textLength="56.73" lengthAdjust="spacing" fill="#0000ff" stroke="#0000ff" stroke-width="0.2" font-size="10.2">PFLU4614</text><text transform="translate(402.85,336.20) scale(0.810,1)" textLength="56.73" lengthAdjust="spacing" fill="#0000ff" stroke="#0000ff" stroke-width="0.2" font-size="10.2">PFLU4613</text><text transform="translate(402.85,350.70) scale(0.810,1)" textLength="56.73" lengthAdjust="spacing" fill="#0000ff" stroke="#0000ff" stroke-width="0.2" font-size="10.2">PFLU4612</text><text transform="translate(402.35,366.20) scale(0.810,1)" textLength="56.73" lengthAdjust="spacing" fill="#0000ff" stroke="#0000ff" stroke-width="0.2" font-size="10.2">PFLU4606</text><text transform="translate(401.60,381.70) scale(0.810,1)" textLength="56.73" lengthAdjust="spacing" fill="#0000ff" stroke="#0000ff" stroke-width="0.2" font-size="10.2">PFLU4604</text><text transform="translate(401.60,397.70) scale(0.810,1)" textLength="56.73" lengthAdjust="spacing" fill="#0000ff" stroke="#0000ff" stroke-width="0.2" font-size="10.2">PFLU4603</text><text transform="translate(401.60,411.70) scale(0.810,1)" textLength="25.59" lengthAdjust="spacing" fill="#0000ff" stroke="#0000ff" stroke-width="0.2" font-size="10.2">rlmL</text><text transform="translate(400.60,425.70) scale(0.810,1)" textLength="56.73" lengthAdjust="spacing" fill="#0000ff" stroke="#0000ff" stroke-width="0.2" font-size="10.2">PFLU4600</text><text transform="translate(400.60,439.70) scale(0.810,1)" textLength="56.73" lengthAdjust="spacing" fill="#0000ff" stroke="#0000ff" stroke-width="0.2" font-size="10.2">PFLU4598</text><text transform="translate(400.60,455.70) scale(0.810,1)" textLength="56.73" lengthAdjust="spacing" fill="#0000ff" stroke="#0000ff" stroke-width="0.2" font-size="10.2">PFLU4596</text><text transform="translate(399.35,471.70) scale(0.810,1)" textLength="56.73" lengthAdjust="spacing" fill="#0000ff" stroke="#0000ff" stroke-width="0.2" font-size="10.2">PFLU4591</text><text transform="translate(399.35,485.70) scale(0.810,1)" textLength="56.73" lengthAdjust="spacing" fill="#0000ff" stroke="#0000ff" stroke-width="0.2" font-size="10.2">PFLU4590</text><text transform="translate(399.35,500.50) scale(0.810,1)" textLength="24.47" lengthAdjust="spacing" fill="#0000ff" stroke="#0000ff" stroke-width="0.2" font-size="10.2">zipA</text><text transform="translate(399.35,516.70) scale(0.810,1)" textLength="21.66" lengthAdjust="spacing" fill="#0000ff" stroke="#0000ff" stroke-width="0.2" font-size="10.2">ligA</text><text transform="translate(399.35,533.70) scale(0.810,1)" textLength="56.73" lengthAdjust="spacing" fill="#0000ff" stroke="#0000ff" stroke-width="0.2" font-size="10.2">PFLU4587</text><text transform="translate(397.85,549.70) scale(0.810,1)" textLength="48.20" lengthAdjust="spacing" fill="#33ccff" stroke="#33ccff" stroke-width="0.2" font-size="10.2">PFLUs37</text><text transform="translate(447.85,560.70) scale(0.810,1)" textLength="56.73" lengthAdjust="spacing" fill="#0000ff" stroke="#0000ff" stroke-width="0.2" font-size="10.2">PFLU4586</text><text transform="translate(377.70,36.80) rotate(0.00) translate(0,2.1) scale(0.86,1)" textLength="43.02" lengthAdjust="spacing" fill="#222" stroke="#222" stroke-width="0.12" font-size="8.4">5130 kbp</text><text transform="translate(371.70,103.50) rotate(0.00) translate(0,2.1) scale(0.86,1)" textLength="43.02" lengthAdjust="spacing" fill="#222" stroke="#222" stroke-width="0.12" font-size="8.4">5120 kbp</text><text transform="translate(367.90,169.70) rotate(0.00) translate(0,2.1) scale(0.86,1)" textLength="43.02" lengthAdjust="spacing" fill="#222" stroke="#222" stroke-width="0.12" font-size="8.4">5110 kbp</text><text transform="translate(363.90,236.80) rotate(0.00) translate(0,2.1) scale(0.86,1)" textLength="43.02" lengthAdjust="spacing" fill="#222" stroke="#222" stroke-width="0.12" font-size="8.4">5100 kbp</text><text transform="translate(360.80,302.60) rotate(0.00) translate(0,2.1) scale(0.86,1)" textLength="43.02" lengthAdjust="spacing" fill="#222" stroke="#222" stroke-width="0.12" font-size="8.4">5090 kbp</text><text transform="translate(357.90,369.80) rotate(0.00) translate(0,2.1) scale(0.86,1)" textLength="43.02" lengthAdjust="spacing" fill="#222" stroke="#222" stroke-width="0.12" font-size="8.4">5080 kbp</text><text transform="translate(356.80,435.90) rotate(0.00) translate(0,2.1) scale(0.86,1)" textLength="43.02" lengthAdjust="spacing" fill="#222" stroke="#222" stroke-width="0.12" font-size="8.4">5070 kbp</text><text transform="translate(355.90,502.80) rotate(0.00) translate(0,2.1) scale(0.86,1)" textLength="43.02" lengthAdjust="spacing" fill="#222" stroke="#222" stroke-width="0.12" font-size="8.4">5060 kbp</text><text transform="translate(354.80,568.60) rotate(0.00) translate(0,2.1) scale(0.86,1)" textLength="43.02" lengthAdjust="spacing" fill="#222" stroke="#222" stroke-width="0.12" font-size="8.4">5050 kbp</text></g>
<rect x="116" y="5" width="368" height="26" fill="#fff" opacity="0.78"/>
<rect x="256.5" y="571.5" width="343.5" height="23" fill="#fff" opacity="0.78"/>
<g opacity="0.995"><text transform="translate(121.50,23.20) scale(0.880,1)" textLength="406.25" lengthAdjust="spacing" fill="#111" font-size="14.20" font-style="italic" stroke="#111" stroke-width="0.15">Pseudomonas fluorescens SBW25, complete genome</text><text transform="translate(9.60,587.00) scale(0.900,1)" textLength="148.33" lengthAdjust="spacing" fill="#111" font-size="12.70" stroke="#111" stroke-width="0.2">Accession: NC_012660</text><text transform="translate(261.30,586.80) scale(0.900,1)" textLength="364.78" lengthAdjust="spacing" fill="#111" font-size="12.70" stroke="#111" stroke-width="0.2">Topology: circular; Length: 6,722,539 bp; Genes: 6,018</text></g></svg>
</body></html>
